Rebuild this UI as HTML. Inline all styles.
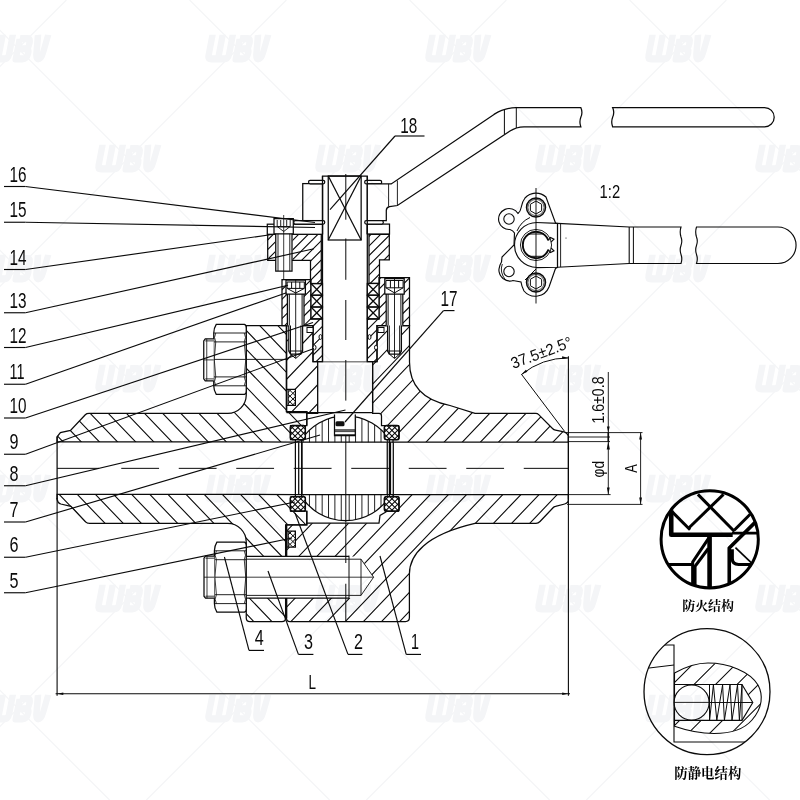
<!DOCTYPE html><html><head><meta charset="utf-8"><title>Ball valve drawing</title><style>html,body{margin:0;padding:0;background:#fff;width:800px;height:800px;overflow:hidden;font-family:"Liberation Sans",sans-serif}</style></head><body><svg width="800" height="800" viewBox="0 0 800 800" style="position:absolute;left:0;top:0"><defs><clipPath id="c1"><path d="M57.1,441.9 L57.1,436.8 L60.4,432.6 L70.5,430.4 L85.3,414.7 Q86.6,413.4 89,413.4 L227.75,413.4 A18.5,18.5 0 0 0 246.25,395.25 L246.25,325.6 L286.5,325.6 L286.5,411.7 L306.8,411.7 L306.8,425.5 L290.5,425.5 L290.5,439.5 L295.4,439.5 L295.4,442 Z" clip-rule="nonzero"/></clipPath><clipPath id="c2"><path d="M57.1,494.4 L57.1,499.3 Q57.6,503 60.8,504 L70.9,506.3 L85.5,521.9 Q87,523.4 89.5,523.4 L227.75,523.4 A18.5,18.5 0 0 1 246.25,541.9 L246.25,618 Q246.25,621.6 250,621.6 L282,621.6 Q285.6,621.6 285.6,618 L285.6,524.8 L306.8,524.8 L306.8,511 L290.5,511 L290.5,497 L295.4,497 L295.4,494.5 Z" clip-rule="nonzero"/></clipPath><clipPath id="c3"><path d="M286.5,325.6 L313,325.6 L313,361.6 L317.7,361.6 L317.7,413.3 L306.8,413.3 L306.8,411.7 L286.5,411.7 Z" clip-rule="nonzero"/></clipPath><clipPath id="c4"><path d="M377,325.6 L409.5,325.6 L409.5,362 C409.5,384 422,400 450,405.5 L475,413.4 L535.8,413.4 Q537.5,413.4 538.7,414.6 L552.5,428.5 Q553.8,429.8 555.5,430.1 L564,431.9 Q568.4,433.5 568.4,437.5 L568.4,442 L393,442 L393,439.5 L398.6,439.5 L398.6,425.5 L381.5,425.5 L381.5,416 Q381.5,413.3 379,413.3 L372.6,413.3 L372.6,361.6 L377,361.6 Z" clip-rule="nonzero"/></clipPath><clipPath id="c5"><path d="M286.5,524.8 L306.8,524.8 L306.8,523.2 L379,523.2 L380,515.5 L386,512 L386,511 L398.6,511 L398.6,497 L393,497 L393,494.5 L568.4,494.5 L568.4,499.5 Q568.4,503 564.7,504 L555.5,506.4 Q554,506.7 552.8,508 L540,521.5 Q538.2,523.4 536,523.4 L475,523.4 C425,535 409.4,555 409.4,574 L409.4,617.6 Q409.4,621.6 405.4,621.6 L290,621.6 Q286.5,621.6 286.5,618 Z" clip-rule="nonzero"/></clipPath><clipPath id="c6"><path d="M288.1,389.4 L295.4,389.4 L295.4,405.3 L288.1,405.3Z" clip-rule="nonzero"/></clipPath><clipPath id="c7"><path d="M288.1,389.4 L295.4,389.4 L295.4,405.3 L288.1,405.3Z" clip-rule="nonzero"/></clipPath><clipPath id="c8"><path d="M288.1,531.2 L295.4,531.2 L295.4,547.1 L288.1,547.1Z" clip-rule="nonzero"/></clipPath><clipPath id="c9"><path d="M288.1,531.2 L295.4,531.2 L295.4,547.1 L288.1,547.1Z" clip-rule="nonzero"/></clipPath><clipPath id="c10"><path d="M301.6,439.6 A52.4,52.4 0 0 1 389.4,439.6 L389.4,496.9 A52.4,52.4 0 0 1 301.6,496.9 Z M301.6,442.2 L389.4,442.2 L389.4,494.6 L301.6,494.6 Z M334.5,412 L355.3,412 L355.3,436 L334.5,436 Z" clip-rule="evenodd"/></clipPath><clipPath id="c11"><path d="M301.6,439.6 A52.4,52.4 0 0 1 389.4,439.6 L389.4,496.9 A52.4,52.4 0 0 1 301.6,496.9 Z M301.6,442.2 L389.4,442.2 L389.4,494.6 L301.6,494.6 Z M334.5,412 L355.3,412 L355.3,436 L334.5,436 Z" clip-rule="evenodd"/></clipPath><clipPath id="c12"><path d="M292.4,425.5 L303.4,425.5 Q305.4,425.5 305.4,427.5 L305.4,437.6 Q305.4,439.6 303.4,439.6 L292.4,439.6 Q290.4,439.6 290.4,437.6 L290.4,427.5 Q290.4,425.5 292.4,425.5Z" clip-rule="nonzero"/></clipPath><clipPath id="c13"><path d="M292.4,425.5 L303.4,425.5 Q305.4,425.5 305.4,427.5 L305.4,437.6 Q305.4,439.6 303.4,439.6 L292.4,439.6 Q290.4,439.6 290.4,437.6 L290.4,427.5 Q290.4,425.5 292.4,425.5Z" clip-rule="nonzero"/></clipPath><clipPath id="c14"><path d="M292.4,496.6 L303.4,496.6 Q305.4,496.6 305.4,498.6 L305.4,509.2 Q305.4,511.2 303.4,511.2 L292.4,511.2 Q290.4,511.2 290.4,509.2 L290.4,498.6 Q290.4,496.6 292.4,496.6Z" clip-rule="nonzero"/></clipPath><clipPath id="c15"><path d="M292.4,496.6 L303.4,496.6 Q305.4,496.6 305.4,498.6 L305.4,509.2 Q305.4,511.2 303.4,511.2 L292.4,511.2 Q290.4,511.2 290.4,509.2 L290.4,498.6 Q290.4,496.6 292.4,496.6Z" clip-rule="nonzero"/></clipPath><clipPath id="c16"><path d="M386.4,425.5 L397,425.5 Q399,425.5 399,427.5 L399,437.6 Q399,439.6 397,439.6 L386.4,439.6 Q384.4,439.6 384.4,437.6 L384.4,427.5 Q384.4,425.5 386.4,425.5Z" clip-rule="nonzero"/></clipPath><clipPath id="c17"><path d="M386.4,425.5 L397,425.5 Q399,425.5 399,427.5 L399,437.6 Q399,439.6 397,439.6 L386.4,439.6 Q384.4,439.6 384.4,437.6 L384.4,427.5 Q384.4,425.5 386.4,425.5Z" clip-rule="nonzero"/></clipPath><clipPath id="c18"><path d="M386.4,496.6 L397,496.6 Q399,496.6 399,498.6 L399,509.2 Q399,511.2 397,511.2 L386.4,511.2 Q384.4,511.2 384.4,509.2 L384.4,498.6 Q384.4,496.6 386.4,496.6Z" clip-rule="nonzero"/></clipPath><clipPath id="c19"><path d="M386.4,496.6 L397,496.6 Q399,496.6 399,498.6 L399,509.2 Q399,511.2 397,511.2 L386.4,511.2 Q384.4,511.2 384.4,509.2 L384.4,498.6 Q384.4,496.6 386.4,496.6Z" clip-rule="nonzero"/></clipPath><clipPath id="c20"><path d="M282,279.5 L311,279.5 L311,319 L322.5,319 L322.5,361.6 L313,361.6 L313,325.5 L282,325.5 Z" clip-rule="nonzero"/></clipPath><clipPath id="c21"><path d="M379,277.5 L409.5,277.5 L409.5,325.5 L377,325.5 L377,361.6 L367.3,361.6 L367.3,319 L379,319 Z" clip-rule="nonzero"/></clipPath><clipPath id="c22"><path d="M292.6,234.3 L321.3,234.3 L321.3,283.5 L310.5,283.5 L310.5,260.3 L292.6,260.3Z" clip-rule="nonzero"/></clipPath><clipPath id="c23"><path d="M267.7,234.3 L275.1,234.3 L275.1,260.3 L267.7,260.3Z" clip-rule="nonzero"/></clipPath><clipPath id="c24"><path d="M369,234.3 L389.3,234.3 L389.3,259.9 L379.5,259.9 L379.5,283.3 L369,283.3 Z" clip-rule="nonzero"/></clipPath><clipPath id="fc"><circle cx="709.7" cy="539.3" r="48.6"/></clipPath><clipPath id="ac"><circle cx="707" cy="691.7" r="63"/></clipPath><clipPath id="c25"><path d="M674.5,673 C686,666.5 698,663 708,663 C728,663 750,671.5 758,685 C763.5,695 762.5,708 752,720 C743,730.5 727,733.5 714,733.5 C700,733.5 688,731 674.5,726.3Z M674,684.5 L742,684.5 L752.8,702.5 L742,720.3 L674,720.3 Z" clip-rule="evenodd"/></clipPath></defs><path d="M-53.86,320L66.14,445M-35.73,320L84.27,445M-17.6,320L102.4,445M0.53,320L120.53,445M18.66,320L138.66,445M36.79,320L156.79,445M54.92,320L174.92,445M73.05,320L193.05,445M91.18,320L211.18,445M109.31,320L229.31,445M127.44,320L247.44,445M145.57,320L265.57,445M163.7,320L283.7,445M181.83,320L301.83,445M199.96,320L319.96,445M218.09,320L338.09,445M236.22,320L356.22,445M254.35,320L374.35,445M272.48,320L392.48,445M290.61,320L410.61,445M308.74,320L428.74,445" fill="none" stroke="#0a0a0a" stroke-width="1.1" clip-path="url(#c1)"/><path d="M57.1,441.9 L57.1,436.8 L60.4,432.6 L70.5,430.4 L85.3,414.7 Q86.6,413.4 89,413.4 L227.75,413.4 A18.5,18.5 0 0 0 246.25,395.25 L246.25,325.6 L286.5,325.6 L286.5,411.7 L306.8,411.7 L306.8,425.5 L290.5,425.5 L290.5,439.5 L295.4,439.5 L295.4,442 Z" fill="none" stroke="#0a0a0a" stroke-width="1.25" /><path d="M-71.96,490L57.64,625M-53.83,490L75.77,625M-35.7,490L93.9,625M-17.57,490L112.03,625M0.56,490L130.16,625M18.69,490L148.29,625M36.82,490L166.42,625M54.95,490L184.55,625M73.08,490L202.68,625M91.21,490L220.81,625M109.34,490L238.94,625M127.47,490L257.07,625M145.6,490L275.2,625M163.73,490L293.33,625M181.86,490L311.46,625M199.99,490L329.59,625M218.12,490L347.72,625M236.25,490L365.85,625M254.38,490L383.98,625M272.51,490L402.11,625M290.64,490L420.24,625M308.77,490L438.37,625" fill="none" stroke="#0a0a0a" stroke-width="1.1" clip-path="url(#c2)"/><path d="M57.1,494.4 L57.1,499.3 Q57.6,503 60.8,504 L70.9,506.3 L85.5,521.9 Q87,523.4 89.5,523.4 L227.75,523.4 A18.5,18.5 0 0 1 246.25,541.9 L246.25,618 Q246.25,621.6 250,621.6 L282,621.6 Q285.6,621.6 285.6,618 L285.6,524.8 L306.8,524.8 L306.8,511 L290.5,511 L290.5,497 L295.4,497 L295.4,494.5 Z" fill="none" stroke="#0a0a0a" stroke-width="1.25" /><path d="M57.1,436.8L57.1,499.3" fill="none" stroke="#0a0a0a" stroke-width="1.25" /><path d="M288.81,320L198.09,415M306.94,320L216.22,415M325.07,320L234.35,415M343.2,320L252.48,415M361.33,320L270.61,415M379.46,320L288.74,415M397.59,320L306.87,415" fill="none" stroke="#0a0a0a" stroke-width="1.1" clip-path="url(#c3)"/><path d="M286.5,325.6 L313,325.6 L313,361.6 L317.7,361.6 L317.7,413.3 L306.8,413.3 L306.8,411.7 L286.5,411.7 Z" fill="none" stroke="#0a0a0a" stroke-width="1.25" /><path d="M379.46,320L260.09,445M397.59,320L278.22,445M415.72,320L296.35,445M433.85,320L314.48,445M451.98,320L332.61,445M470.11,320L350.74,445M488.24,320L368.87,445M506.37,320L387.0,445M524.5,320L405.13,445M542.63,320L423.26,445M560.76,320L441.39,445M578.89,320L459.52,445M597.02,320L477.65,445M615.15,320L495.78,445M633.28,320L513.9,445M651.41,320L532.04,445M669.54,320L550.16,445M687.67,320L568.3,445" fill="none" stroke="#0a0a0a" stroke-width="1.1" clip-path="url(#c4)"/><path d="M377,325.6 L409.5,325.6 L409.5,362 C409.5,384 422,400 450,405.5 L475,413.4 L535.8,413.4 Q537.5,413.4 538.7,414.6 L552.5,428.5 Q553.8,429.8 555.5,430.1 L564,431.9 Q568.4,433.5 568.4,437.5 L568.4,442 L393,442 L393,439.5 L398.6,439.5 L398.6,425.5 L381.5,425.5 L381.5,416 Q381.5,413.3 379,413.3 L372.6,413.3 L372.6,361.6 L377,361.6 Z" fill="none" stroke="#0a0a0a" stroke-width="1.25" /><path d="M289.63,490L160.71,625M307.76,490L178.84,625M325.89,490L196.97,625M344.02,490L215.1,625M362.15,490L233.23,625M380.28,490L251.36,625M398.41,490L269.49,625M416.54,490L287.62,625M434.67,490L305.75,625M452.8,490L323.88,625M470.93,490L342.0,625M489.06,490L360.13,625M507.19,490L378.26,625M525.32,490L396.39,625M543.45,490L414.52,625M561.58,490L432.65,625M579.71,490L450.79,625M597.84,490L468.92,625M615.97,490L487.05,625M634.1,490L505.18,625M652.23,490L523.31,625M670.36,490L541.44,625M688.49,490L559.57,625" fill="none" stroke="#0a0a0a" stroke-width="1.1" clip-path="url(#c5)"/><path d="M286.5,524.8 L306.8,524.8 L306.8,523.2 L379,523.2 L380,515.5 L386,512 L386,511 L398.6,511 L398.6,497 L393,497 L393,494.5 L568.4,494.5 L568.4,499.5 Q568.4,503 564.7,504 L555.5,506.4 Q554,506.7 552.8,508 L540,521.5 Q538.2,523.4 536,523.4 L475,523.4 C425,535 409.4,555 409.4,574 L409.4,617.6 Q409.4,621.6 405.4,621.6 L290,621.6 Q286.5,621.6 286.5,618 Z" fill="none" stroke="#0a0a0a" stroke-width="1.25" /><path d="M568.4,437L568.4,499.5" fill="none" stroke="#0a0a0a" stroke-width="1.25" /><path d="M286.5,389.4 L295.4,389.4 L295.4,405.3 L286.5,405.3Z" fill="#fff" stroke="none"/><path d="M292.1,388.4L274.2,406.3M297.8,388.4L279.9,406.3M303.5,388.4L285.6,406.3M309.2,388.4L291.3,406.3" fill="none" stroke="#0a0a0a" stroke-width="1.0" clip-path="url(#c6)"/><path d="M270.9,388.4L288.8,406.3M276.6,388.4L294.5,406.3M282.3,388.4L300.2,406.3M288.0,388.4L305.9,406.3M293.7,388.4L311.6,406.3" fill="none" stroke="#0a0a0a" stroke-width="1.0" clip-path="url(#c7)"/><path d="M286.5,389.4 L295.4,389.4 L295.4,405.3 L286.5,405.3" fill="none" stroke="#0a0a0a" stroke-width="1.2" /><path d="M288.1,389.4L288.1,405.3" fill="none" stroke="#0a0a0a" stroke-width="1.3" /><path d="M286.5,531.2 L295.4,531.2 L295.4,547.1 L286.5,547.1Z" fill="#fff" stroke="none"/><path d="M287.1,530.2L269.2,548.1M292.8,530.2L274.9,548.1M298.5,530.2L280.6,548.1M304.2,530.2L286.3,548.1M309.9,530.2L292.0,548.1" fill="none" stroke="#0a0a0a" stroke-width="1.0" clip-path="url(#c8)"/><path d="M270.2,530.2L288.1,548.1M275.9,530.2L293.8,548.1M281.6,530.2L299.5,548.1M287.3,530.2L305.2,548.1M293.0,530.2L310.9,548.1" fill="none" stroke="#0a0a0a" stroke-width="1.0" clip-path="url(#c9)"/><path d="M286.5,531.2 L295.4,531.2 L295.4,547.1 L286.5,547.1" fill="none" stroke="#0a0a0a" stroke-width="1.2" /><path d="M288.1,531.2L288.1,547.1" fill="none" stroke="#0a0a0a" stroke-width="1.3" /><path d="M286.5,325.6L286.5,411.7" fill="none" stroke="#0a0a0a" stroke-width="1.25" /><path d="M286.5,524.8L286.5,618" fill="none" stroke="#0a0a0a" stroke-width="1.25" /><path d="M301.6,439.6 A52.4,52.4 0 0 1 389.4,439.6 L389.4,496.9 A52.4,52.4 0 0 1 301.6,496.9 Z" fill="#fff" stroke="none"/><path d="M303.09,414L303.09,522M309.45,414L309.45,522M315.81,414L315.81,522M322.17,414L322.17,522M328.53,414L328.53,522M334.89,414L334.89,522M341.25,414L341.25,522" fill="none" stroke="#0a0a0a" stroke-width="0.9" clip-path="url(#c10)"/><path d="M349.2,414L349.2,522M355.56,414L355.56,522M361.92,414L361.92,522M368.28,414L368.28,522M374.64,414L374.64,522M381.0,414L381.0,522M387.36,414L387.36,522" fill="none" stroke="#0a0a0a" stroke-width="0.9" clip-path="url(#c11)"/><path d="M301.6,439.6 A52.4,52.4 0 0 1 389.4,439.6 L389.4,496.9 A52.4,52.4 0 0 1 301.6,496.9 Z" fill="none" stroke="#0a0a0a" stroke-width="1.25" /><path d="M295.4,442.1L393,442.1" fill="none" stroke="#0a0a0a" stroke-width="1.25" /><path d="M295.4,494.6L393,494.6" fill="none" stroke="#0a0a0a" stroke-width="1.25" /><path d="M295.4,442.2L295.4,494.4" fill="none" stroke="#0a0a0a" stroke-width="1.25" /><path d="M298.7,442.2L298.7,494.4" fill="none" stroke="#0a0a0a" stroke-width="1.25" /><path d="M302,442.2L302,494.4" fill="none" stroke="#0a0a0a" stroke-width="1.25" /><path d="M387.25,442.2L387.25,494.4" fill="none" stroke="#0a0a0a" stroke-width="1.25" /><path d="M390.5,442.2L390.5,494.4" fill="none" stroke="#0a0a0a" stroke-width="1.25" /><path d="M393.3,442.2L393.3,494.4" fill="none" stroke="#0a0a0a" stroke-width="1.25" /><path d="M334.5,412 L355.3,412 L355.3,435.5 L334.5,435.5 Z" fill="#fff" stroke="none"/><path d="M334.5,414.5 L334.5,435.7 L355.3,435.7 L355.3,414.5" fill="none" stroke="#0a0a0a" stroke-width="1.25" /><path d="M334.5,430L355.3,430" fill="none" stroke="#0a0a0a" stroke-width="1.25" /><path d="M334.5,431.6L355.3,431.6" fill="none" stroke="#0a0a0a" stroke-width="0.8" /><path d="M334.5,434.6L355.3,434.6" fill="none" stroke="#0a0a0a" stroke-width="0.8" /><rect x="335.5" y="421.2" width="9" height="5" rx="1.5" fill="#111"/><path d="M292.4,425.5 L303.4,425.5 Q305.4,425.5 305.4,427.5 L305.4,437.6 Q305.4,439.6 303.4,439.6 L292.4,439.6 Q290.4,439.6 290.4,437.6 L290.4,427.5 Q290.4,425.5 292.4,425.5Z" fill="#fff" stroke="none"/><path d="M289.5,424.5L273.4,440.6M295.2,424.5L279.1,440.6M300.9,424.5L284.8,440.6M306.6,424.5L290.5,440.6M312.3,424.5L296.2,440.6M318.0,424.5L301.9,440.6" fill="none" stroke="#0a0a0a" stroke-width="1.05" clip-path="url(#c12)"/><path d="M277.8,424.5L293.9,440.6M283.5,424.5L299.6,440.6M289.2,424.5L305.3,440.6M294.9,424.5L311.0,440.6M300.6,424.5L316.7,440.6M306.3,424.5L322.4,440.6" fill="none" stroke="#0a0a0a" stroke-width="1.05" clip-path="url(#c13)"/><path d="M292.4,425.5 L303.4,425.5 Q305.4,425.5 305.4,427.5 L305.4,437.6 Q305.4,439.6 303.4,439.6 L292.4,439.6 Q290.4,439.6 290.4,437.6 L290.4,427.5 Q290.4,425.5 292.4,425.5Z" fill="none" stroke="#0a0a0a" stroke-width="1.25" /><path d="M292.4,425.5 L303.4,425.5 Q305.4,425.5 305.4,427.5 L305.4,437.6 Q305.4,439.6 303.4,439.6 L292.4,439.6 Q290.4,439.6 290.4,437.6 L290.4,427.5 Q290.4,425.5 292.4,425.5Z" fill="none" stroke="#0a0a0a" stroke-width="1.3" /><path d="M292.4,496.6 L303.4,496.6 Q305.4,496.6 305.4,498.6 L305.4,509.2 Q305.4,511.2 303.4,511.2 L292.4,511.2 Q290.4,511.2 290.4,509.2 L290.4,498.6 Q290.4,496.6 292.4,496.6Z" fill="#fff" stroke="none"/><path d="M292.5,495.6L275.9,512.2M298.2,495.6L281.6,512.2M303.9,495.6L287.3,512.2M309.6,495.6L293.0,512.2M315.3,495.6L298.7,512.2M321.0,495.6L304.4,512.2" fill="none" stroke="#0a0a0a" stroke-width="1.05" clip-path="url(#c14)"/><path d="M274.8,495.6L291.4,512.2M280.5,495.6L297.1,512.2M286.2,495.6L302.8,512.2M291.9,495.6L308.5,512.2M297.6,495.6L314.2,512.2M303.3,495.6L319.9,512.2" fill="none" stroke="#0a0a0a" stroke-width="1.05" clip-path="url(#c15)"/><path d="M292.4,496.6 L303.4,496.6 Q305.4,496.6 305.4,498.6 L305.4,509.2 Q305.4,511.2 303.4,511.2 L292.4,511.2 Q290.4,511.2 290.4,509.2 L290.4,498.6 Q290.4,496.6 292.4,496.6Z" fill="none" stroke="#0a0a0a" stroke-width="1.25" /><path d="M292.4,496.6 L303.4,496.6 Q305.4,496.6 305.4,498.6 L305.4,509.2 Q305.4,511.2 303.4,511.2 L292.4,511.2 Q290.4,511.2 290.4,509.2 L290.4,498.6 Q290.4,496.6 292.4,496.6Z" fill="none" stroke="#0a0a0a" stroke-width="1.3" /><path d="M386.4,425.5 L397,425.5 Q399,425.5 399,427.5 L399,437.6 Q399,439.6 397,439.6 L386.4,439.6 Q384.4,439.6 384.4,437.6 L384.4,427.5 Q384.4,425.5 386.4,425.5Z" fill="#fff" stroke="none"/><path d="M386.4,424.5L370.3,440.6M392.1,424.5L376.0,440.6M397.8,424.5L381.7,440.6M403.5,424.5L387.4,440.6M409.2,424.5L393.1,440.6M414.9,424.5L398.8,440.6" fill="none" stroke="#0a0a0a" stroke-width="1.05" clip-path="url(#c16)"/><path d="M369.0,424.5L385.1,440.6M374.7,424.5L390.8,440.6M380.4,424.5L396.5,440.6M386.1,424.5L402.2,440.6M391.8,424.5L407.9,440.6M397.5,424.5L413.6,440.6" fill="none" stroke="#0a0a0a" stroke-width="1.05" clip-path="url(#c17)"/><path d="M386.4,425.5 L397,425.5 Q399,425.5 399,427.5 L399,437.6 Q399,439.6 397,439.6 L386.4,439.6 Q384.4,439.6 384.4,437.6 L384.4,427.5 Q384.4,425.5 386.4,425.5Z" fill="none" stroke="#0a0a0a" stroke-width="1.25" /><path d="M386.4,425.5 L397,425.5 Q399,425.5 399,427.5 L399,437.6 Q399,439.6 397,439.6 L386.4,439.6 Q384.4,439.6 384.4,437.6 L384.4,427.5 Q384.4,425.5 386.4,425.5Z" fill="none" stroke="#0a0a0a" stroke-width="1.3" /><path d="M386.4,496.6 L397,496.6 Q399,496.6 399,498.6 L399,509.2 Q399,511.2 397,511.2 L386.4,511.2 Q384.4,511.2 384.4,509.2 L384.4,498.6 Q384.4,496.6 386.4,496.6Z" fill="#fff" stroke="none"/><path d="M383.7,495.6L367.1,512.2M389.4,495.6L372.8,512.2M395.1,495.6L378.5,512.2M400.8,495.6L384.2,512.2M406.5,495.6L389.9,512.2M412.2,495.6L395.6,512.2" fill="none" stroke="#0a0a0a" stroke-width="1.05" clip-path="url(#c18)"/><path d="M371.7,495.6L388.3,512.2M377.4,495.6L394.0,512.2M383.1,495.6L399.7,512.2M388.8,495.6L405.4,512.2M394.5,495.6L411.1,512.2" fill="none" stroke="#0a0a0a" stroke-width="1.05" clip-path="url(#c19)"/><path d="M386.4,496.6 L397,496.6 Q399,496.6 399,498.6 L399,509.2 Q399,511.2 397,511.2 L386.4,511.2 Q384.4,511.2 384.4,509.2 L384.4,498.6 Q384.4,496.6 386.4,496.6Z" fill="none" stroke="#0a0a0a" stroke-width="1.25" /><path d="M386.4,496.6 L397,496.6 Q399,496.6 399,498.6 L399,509.2 Q399,511.2 397,511.2 L386.4,511.2 Q384.4,511.2 384.4,509.2 L384.4,498.6 Q384.4,496.6 386.4,496.6Z" fill="none" stroke="#0a0a0a" stroke-width="1.3" /><path d="M306.8,425.5 L306.8,413.3 L317.7,413.3" fill="none" stroke="#0a0a0a" stroke-width="1.25" /><path d="M306.8,511 L306.8,523.2" fill="none" stroke="#0a0a0a" stroke-width="1.25" /><path d="M317.7,361.6 L372.6,361.6 L372.6,412.6 L317.7,412.6Z" fill="#fff" stroke="none"/><path d="M317.7,412.6 L317.7,361.6 L372.6,361.6 L372.6,412.6" fill="none" stroke="#0a0a0a" stroke-width="1.25" /><path d="M286.5,412.5L372.6,412.5" fill="none" stroke="#0a0a0a" stroke-width="1.25" /><path d="M322.5,176 L367.3,176 L367.3,361.6 L322.5,361.6Z" fill="#fff" stroke="none"/><path d="M322.5,361.6 L322.5,176 L367.3,176 L367.3,361.6" fill="none" stroke="#0a0a0a" stroke-width="1.25" /><rect x="328.25" y="176" width="32.9" height="64" rx="0" fill="none" stroke="#0a0a0a" stroke-width="1.25"/><path d="M328.25,176L361.15,240" fill="none" stroke="#0a0a0a" stroke-width="1.25" /><path d="M361.15,176L328.25,240" fill="none" stroke="#0a0a0a" stroke-width="1.25" /><path d="M286.95,275L196.95,365M296.6,275L206.6,365M306.25,275L216.25,365M315.9,275L225.9,365M325.55,275L235.55,365M335.2,275L245.2,365M344.85,275L254.85,365M354.5,275L264.5,365M364.15,275L274.15,365M373.8,275L283.8,365M383.45,275L293.45,365M393.1,275L303.1,365M402.75,275L312.75,365M412.4,275L322.4,365" fill="none" stroke="#0a0a0a" stroke-width="1.1" clip-path="url(#c20)"/><path d="M282,279.5 L311,279.5 L311,319 L322.5,319 L322.5,361.6 L313,361.6 L313,325.5 L282,325.5 Z" fill="none" stroke="#0a0a0a" stroke-width="1.25" /><path d="M373.8,275L283.8,365M383.45,275L293.45,365M393.1,275L303.1,365M402.75,275L312.75,365M412.4,275L322.4,365M422.05,275L332.05,365M431.7,275L341.7,365M441.35,275L351.35,365M451.0,275L361.0,365M460.65,275L370.65,365M470.3,275L380.3,365M479.95,275L389.95,365M489.6,275L399.6,365M499.25,275L409.25,365" fill="none" stroke="#0a0a0a" stroke-width="1.1" clip-path="url(#c21)"/><path d="M379,277.5 L409.5,277.5 L409.5,325.5 L377,325.5 L377,361.6 L367.3,361.6 L367.3,319 L379,319 Z" fill="none" stroke="#0a0a0a" stroke-width="1.25" /><path d="M311,283.5L322.5,283.5L322.5,318.7L311,318.7Z" fill="#fff" stroke="none"/><rect x="311" y="283.5" width="11.5" height="11.7" rx="0" fill="none" stroke="#0a0a0a" stroke-width="1.25"/><path d="M311,283.5L322.5,295.2" fill="none" stroke="#0a0a0a" stroke-width="1.25" /><path d="M322.5,283.5L311,295.2" fill="none" stroke="#0a0a0a" stroke-width="1.25" /><rect x="311" y="295.2" width="11.5" height="11.8" rx="0" fill="none" stroke="#0a0a0a" stroke-width="1.25"/><path d="M311,295.2L322.5,307" fill="none" stroke="#0a0a0a" stroke-width="1.25" /><path d="M322.5,295.2L311,307" fill="none" stroke="#0a0a0a" stroke-width="1.25" /><rect x="311" y="307" width="11.5" height="11.7" rx="0" fill="none" stroke="#0a0a0a" stroke-width="1.25"/><path d="M311,307L322.5,318.7" fill="none" stroke="#0a0a0a" stroke-width="1.25" /><path d="M322.5,307L311,318.7" fill="none" stroke="#0a0a0a" stroke-width="1.25" /><path d="M367.3,283.5L379,283.5L379,318.7L367.3,318.7Z" fill="#fff" stroke="none"/><rect x="367.3" y="283.5" width="11.7" height="11.7" rx="0" fill="none" stroke="#0a0a0a" stroke-width="1.25"/><path d="M367.3,283.5L379,295.2" fill="none" stroke="#0a0a0a" stroke-width="1.25" /><path d="M379,283.5L367.3,295.2" fill="none" stroke="#0a0a0a" stroke-width="1.25" /><rect x="367.3" y="295.2" width="11.7" height="11.8" rx="0" fill="none" stroke="#0a0a0a" stroke-width="1.25"/><path d="M367.3,295.2L379,307" fill="none" stroke="#0a0a0a" stroke-width="1.25" /><path d="M379,295.2L367.3,307" fill="none" stroke="#0a0a0a" stroke-width="1.25" /><rect x="367.3" y="307" width="11.7" height="11.7" rx="0" fill="none" stroke="#0a0a0a" stroke-width="1.25"/><path d="M367.3,307L379,318.7" fill="none" stroke="#0a0a0a" stroke-width="1.25" /><path d="M379,307L367.3,318.7" fill="none" stroke="#0a0a0a" stroke-width="1.25" /><rect x="307" y="327.5" width="6" height="5.0" rx="0" fill="#fff" stroke="#0a0a0a" stroke-width="1.0"/><rect x="378" y="327.5" width="6" height="5.0" rx="0" fill="#fff" stroke="#0a0a0a" stroke-width="1.0"/><ellipse cx="320.5" cy="337" rx="1.5" ry="2.4" fill="#fff" stroke="#0a0a0a" stroke-width="1"/><ellipse cx="314.5" cy="347.5" rx="1.5" ry="2.4" fill="#fff" stroke="#0a0a0a" stroke-width="1"/><ellipse cx="369.5" cy="337" rx="1.5" ry="2.4" fill="#fff" stroke="#0a0a0a" stroke-width="1"/><ellipse cx="376" cy="347.5" rx="1.5" ry="2.4" fill="#fff" stroke="#0a0a0a" stroke-width="1"/><path d="M286.0,280L305.4,280L305.4,294L304.0,294L304.0,325.5L302.59999999999997,325.5L302.59999999999997,351L295.7,358L288.8,351L288.8,325.5L287.4,325.5L287.4,294L286.0,294Z" fill="#fff" stroke="none"/><path d="M286.0,280L305.4,280L305.4,294L286.0,294Z" fill="none" stroke="#0a0a0a" stroke-width="1.25" /><path d="M287.4,294L287.4,325.5M304.0,294L304.0,325.5" fill="none" stroke="#0a0a0a" stroke-width="1.25" /><path d="M288.8,325.5L288.8,351L290.5,354L300.9,354L302.59999999999997,351L302.59999999999997,325.5" fill="none" stroke="#0a0a0a" stroke-width="1.25" /><path d="M290.5,354L295.7,358.5L300.9,354" fill="none" stroke="#0a0a0a" stroke-width="1.0" /><path d="M288.8,351L302.59999999999997,351" fill="none" stroke="#0a0a0a" stroke-width="1.0" /><path d="M289.3,294L289.3,325.5" fill="none" stroke="#0a0a0a" stroke-width="1.0" /><path d="M302.09999999999997,294L302.09999999999997,325.5" fill="none" stroke="#0a0a0a" stroke-width="1.0" /><path d="M290.5,325.5L290.5,354" fill="none" stroke="#0a0a0a" stroke-width="1.0" /><path d="M300.9,325.5L300.9,354" fill="none" stroke="#0a0a0a" stroke-width="1.0" /><path d="M287.09999999999997,282L287.09999999999997,288.4L295.7,293.02L304.3,288.4L304.3,282Z" fill="none" stroke="#0a0a0a" stroke-width="1.0" /><path d="M291.59999999999997,282L291.59999999999997,288.4" fill="none" stroke="#0a0a0a" stroke-width="1.0" /><path d="M299.8,282L299.8,288.4" fill="none" stroke="#0a0a0a" stroke-width="1.0" /><path d="M287.09999999999997,288.4L304.3,288.4" fill="none" stroke="#0a0a0a" stroke-width="1.0" /><path d="M295.7,279L295.7,358" fill="none" stroke="#0a0a0a" stroke-width="0.9" /><path d="M384.8,278.5L404.2,278.5L404.2,294L402.8,294L402.8,325.5L401.4,325.5L401.4,351L394.5,358L387.6,351L387.6,325.5L386.2,325.5L386.2,294L384.8,294Z" fill="#fff" stroke="none"/><path d="M384.8,278.5L404.2,278.5L404.2,294L384.8,294Z" fill="none" stroke="#0a0a0a" stroke-width="1.25" /><path d="M386.2,294L386.2,325.5M402.8,294L402.8,325.5" fill="none" stroke="#0a0a0a" stroke-width="1.25" /><path d="M387.6,325.5L387.6,351L389.3,354L399.7,354L401.4,351L401.4,325.5" fill="none" stroke="#0a0a0a" stroke-width="1.25" /><path d="M389.3,354L394.5,358.5L399.7,354" fill="none" stroke="#0a0a0a" stroke-width="1.0" /><path d="M387.6,351L401.4,351" fill="none" stroke="#0a0a0a" stroke-width="1.0" /><path d="M388.1,294L388.1,325.5" fill="none" stroke="#0a0a0a" stroke-width="1.0" /><path d="M400.9,294L400.9,325.5" fill="none" stroke="#0a0a0a" stroke-width="1.0" /><path d="M389.3,325.5L389.3,354" fill="none" stroke="#0a0a0a" stroke-width="1.0" /><path d="M399.7,325.5L399.7,354" fill="none" stroke="#0a0a0a" stroke-width="1.0" /><path d="M385.9,280.5L385.9,287.8L394.5,292.915L403.1,287.8L403.1,280.5Z" fill="none" stroke="#0a0a0a" stroke-width="1.0" /><path d="M390.4,280.5L390.4,287.8" fill="none" stroke="#0a0a0a" stroke-width="1.0" /><path d="M398.6,280.5L398.6,287.8" fill="none" stroke="#0a0a0a" stroke-width="1.0" /><path d="M385.9,287.8L403.1,287.8" fill="none" stroke="#0a0a0a" stroke-width="1.0" /><path d="M394.5,277.5L394.5,358" fill="none" stroke="#0a0a0a" stroke-width="0.9" /><path d="M291.35,232L237.35,286M301.0,232L247.0,286M310.65,232L256.65,286M320.3,232L266.3,286M329.95,232L275.95,286M339.6,232L285.6,286M349.25,232L295.25,286M358.9,232L304.9,286M368.55,232L314.55,286M378.2,232L324.2,286" fill="none" stroke="#0a0a0a" stroke-width="1.1" clip-path="url(#c22)"/><path d="M266.0,232L236.0,262M275.65,232L245.65,262M285.3,232L255.3,262M294.95,232L264.95,262M304.6,232L274.6,262" fill="none" stroke="#0a0a0a" stroke-width="1.1" clip-path="url(#c23)"/><path d="M267.7,234.3 L321.3,234.3 L321.3,283.5 L310.5,283.5 L310.5,260.3 L267.7,260.3 Z" fill="none" stroke="#0a0a0a" stroke-width="1.25" /><path d="M373.35,232L319.35,286M383.0,232L329.0,286M392.65,232L338.65,286M402.3,232L348.3,286M411.95,232L357.95,286M421.6,232L367.6,286M431.25,232L377.25,286M440.9,232L386.9,286" fill="none" stroke="#0a0a0a" stroke-width="1.1" clip-path="url(#c24)"/><path d="M369,234.3 L389.3,234.3 L389.3,259.9 L379.5,259.9 L379.5,283.3 L369,283.3 Z" fill="none" stroke="#0a0a0a" stroke-width="1.25" /><rect x="267.3" y="224.2" width="55.2" height="10.1" rx="0" fill="#fff" stroke="#0a0a0a" stroke-width="1.25"/><rect x="367.3" y="224.1" width="22.2" height="9.9" rx="0" fill="#fff" stroke="#0a0a0a" stroke-width="1.25"/><path d="M275.75,233.75 L292,233.75 L292,272 L275.75,272Z" fill="#fff" stroke="none"/><path d="M274,218.6 L293.3,218.6 L293.3,233.75 L274,233.75Z" fill="#fff" stroke="none"/><path d="M274,218.6 L293.3,218.6 L293.3,233.75 L274,233.75Z" fill="none" stroke="#0a0a0a" stroke-width="1.25" /><path d="M275.75,233.75 L275.75,271 L292,271 L292,233.75" fill="none" stroke="#0a0a0a" stroke-width="1.25" /><path d="M278,233.75L278,271" fill="none" stroke="#0a0a0a" stroke-width="0.9" /><path d="M289.8,233.75L289.8,271" fill="none" stroke="#0a0a0a" stroke-width="0.9" /><path d="M277.2,220 L277.2,226.5 L283.7,231.5 L290.2,226.5 L290.2,220" fill="none" stroke="#0a0a0a" stroke-width="0.9" /><path d="M277.2,226.5L290.2,226.5" fill="none" stroke="#0a0a0a" stroke-width="0.9" /><path d="M280.7,220L280.7,226.5" fill="none" stroke="#0a0a0a" stroke-width="0.9" /><path d="M286.7,220L286.7,226.5" fill="none" stroke="#0a0a0a" stroke-width="0.9" /><path d="M283.7,215L283.7,279" fill="none" stroke="#0a0a0a" stroke-width="0.8" /><path d="M282,279.5 L282,279.5" fill="none" stroke="#0a0a0a" stroke-width="1" /><rect x="302.75" y="183.6" width="19.75" height="37.0" rx="0" fill="#fff" stroke="#0a0a0a" stroke-width="1.25"/><rect x="308.6" y="180.3" width="16.1" height="3.5" rx="1.5" fill="#fff" stroke="#0a0a0a" stroke-width="1.25"/><rect x="293.75" y="220.6" width="30.95" height="3.5" rx="1.5" fill="#fff" stroke="#0a0a0a" stroke-width="1.25"/><rect x="364.75" y="180.3" width="16.85" height="3.6" rx="1.5" fill="#fff" stroke="#0a0a0a" stroke-width="1.25"/><path d="M367.3,183.9 L391.2,183.9 L494,114.4 Q504,108 516,107.6 L580.8,107.6 Q583,112.5 580.9,117 Q579,122 580.8,126.8 L524,126.8 Q516,127 510,131 L397.4,205.5 L389.5,206.7 Q386.3,207.5 386.3,210.5 L386.3,220.7 L367.3,220.7Z" fill="#fff" stroke="none"/><path d="M367.3,183.9 L391.2,183.9 L494,114.4 Q504,108 516,107.6 L580.8,107.6 Q583,112.5 580.9,117 Q579,122 580.8,126.8 L524,126.8 Q516,127 510,131 L397.4,205.5 L389.5,206.7 Q386.3,207.5 386.3,210.5 L386.3,220.7 L367.3,220.7" fill="none" stroke="#0a0a0a" stroke-width="1.25" /><rect x="364.75" y="220.7" width="18.55" height="3.4" rx="1.5" fill="#fff" stroke="#0a0a0a" stroke-width="1.25"/><path d="M388.6,183.9L388.6,206.5" fill="none" stroke="#0a0a0a" stroke-width="0.9" /><path d="M397.4,180.5L397.4,205.5" fill="none" stroke="#0a0a0a" stroke-width="0.9" /><path d="M504.4,109.3L504.4,134" fill="none" stroke="#0a0a0a" stroke-width="1.0" /><path d="M516.3,107.6L516.3,128" fill="none" stroke="#0a0a0a" stroke-width="1.0" /><path d="M367.3,176L367.3,234" fill="none" stroke="#0a0a0a" stroke-width="1.25" /><path d="M322.5,176L322.5,234" fill="none" stroke="#0a0a0a" stroke-width="1.25" /><path d="M612.6,107.6 L764.6,107.6 A9.6,9.6 0 0 1 764.6,126.8 L612.6,126.8 Q610.8,122 612.7,117 Q614.8,112.5 612.6,107.6Z" fill="none" stroke="#0a0a0a" stroke-width="1.25" /><path d="M216.25,324.4 L244.45,324.4 Q246.25,324.9 246.25,327.9 L246.25,390.9 Q246.25,393.9 244.45,394.4 L216.25,394.4 Q213.75,390.4 213.75,385.79999999999995 L213.75,333.0 Q213.75,328.4 216.25,324.4Z" fill="#fff" stroke="none"/><path d="M216.25,324.4 L244.45,324.4 Q246.25,324.9 246.25,327.9 L246.25,390.9 Q246.25,393.9 244.45,394.4 L216.25,394.4 Q213.75,390.4 213.75,385.79999999999995 L213.75,333.0 Q213.75,328.4 216.25,324.4Z" fill="none" stroke="#0a0a0a" stroke-width="1.25" /><path d="M213.75,333.0L246.25,333.0" fill="none" stroke="#0a0a0a" stroke-width="0.9" /><path d="M213.75,341.9L246.25,341.9" fill="none" stroke="#0a0a0a" stroke-width="0.9" /><path d="M213.75,359.4L246.25,359.4" fill="none" stroke="#0a0a0a" stroke-width="0.9" /><path d="M213.75,376.9L246.25,376.9" fill="none" stroke="#0a0a0a" stroke-width="0.9" /><path d="M213.75,385.79999999999995L246.25,385.79999999999995" fill="none" stroke="#0a0a0a" stroke-width="0.9" /><path d="M215.75,333.0 Q213.25,337.4 215.75,341.9 Q212.75,359.4 215.75,376.9 Q213.25,381.4 215.75,385.79999999999995" fill="none" stroke="#0a0a0a" stroke-width="0.8" /><path d="M244.25,333.0 Q246.75,337.4 244.25,341.9 Q247.25,359.4 244.25,376.9 Q246.75,381.4 244.25,385.79999999999995" fill="none" stroke="#0a0a0a" stroke-width="0.8" /><path d="M213.75,338.9 L205.25,338.9 L203.75,340.9 L203.75,378.9 L205.25,380.9 L213.75,380.9Z" fill="#fff" stroke="none"/><path d="M213.75,338.9 L205.25,338.9 L203.75,340.9 L203.75,378.9 L205.25,380.9 L213.75,380.9" fill="none" stroke="#0a0a0a" stroke-width="1.25" /><path d="M205.25,340.9L213.75,340.9" fill="none" stroke="#0a0a0a" stroke-width="0.8" /><path d="M205.25,378.9L213.75,378.9" fill="none" stroke="#0a0a0a" stroke-width="0.8" /><path d="M206.75,338.9L206.75,380.9" fill="none" stroke="#0a0a0a" stroke-width="0.8" /><path d="M203.75,359.9L213.75,359.9" fill="none" stroke="#0a0a0a" stroke-width="0.8" /><path d="M246.25,359.4L286.5,359.4" fill="none" stroke="#0a0a0a" stroke-width="0.9" /><path d="M246,556.4 L349,556.4 L361,556.4 L361,558.4 L373.6,577.2 L361,596 L361,598 L246,598Z" fill="#fff" stroke="none"/><path d="M246.25,556.4 L349,556.4 M246.25,598 L349,598" fill="none" stroke="#0a0a0a" stroke-width="1.25" /><path d="M246.25,559.2 L361,559.2 L373.6,577.2 L361,595.4 L246.25,595.4" fill="none" stroke="#0a0a0a" stroke-width="0.9" /><path d="M349,555.6 L349,598.6" fill="none" stroke="#0a0a0a" stroke-width="1" /><path d="M361,559.2 L361,595.4" fill="none" stroke="#0a0a0a" stroke-width="0.9" /><path d="M246.25,577.2L373.6,577.2" fill="none" stroke="#0a0a0a" stroke-width="0.8" /><path d="M216.9,542.2 L244.45,542.2 Q246.25,542.7 246.25,545.7 L246.25,608.7 Q246.25,611.7 244.45,612.2 L216.9,612.2 Q214.4,608.2 214.4,603.6 L214.4,550.8000000000001 Q214.4,546.2 216.9,542.2Z" fill="#fff" stroke="none"/><path d="M216.9,542.2 L244.45,542.2 Q246.25,542.7 246.25,545.7 L246.25,608.7 Q246.25,611.7 244.45,612.2 L216.9,612.2 Q214.4,608.2 214.4,603.6 L214.4,550.8000000000001 Q214.4,546.2 216.9,542.2Z" fill="none" stroke="#0a0a0a" stroke-width="1.25" /><path d="M214.4,550.8000000000001L246.25,550.8000000000001" fill="none" stroke="#0a0a0a" stroke-width="0.9" /><path d="M214.4,559.7L246.25,559.7" fill="none" stroke="#0a0a0a" stroke-width="0.9" /><path d="M214.4,577.2L246.25,577.2" fill="none" stroke="#0a0a0a" stroke-width="0.9" /><path d="M214.4,594.7L246.25,594.7" fill="none" stroke="#0a0a0a" stroke-width="0.9" /><path d="M214.4,603.6L246.25,603.6" fill="none" stroke="#0a0a0a" stroke-width="0.9" /><path d="M216.4,550.8000000000001 Q213.9,555.2 216.4,559.7 Q213.4,577.2 216.4,594.7 Q213.9,599.2 216.4,603.6" fill="none" stroke="#0a0a0a" stroke-width="0.8" /><path d="M244.25,550.8000000000001 Q246.75,555.2 244.25,559.7 Q247.25,577.2 244.25,594.7 Q246.75,599.2 244.25,603.6" fill="none" stroke="#0a0a0a" stroke-width="0.8" /><path d="M214.4,556.2 L205.5,556.2 L204,558.2 L204,596.2 L205.5,598.2 L214.4,598.2Z" fill="#fff" stroke="none"/><path d="M214.4,556.2 L205.5,556.2 L204,558.2 L204,596.2 L205.5,598.2 L214.4,598.2" fill="none" stroke="#0a0a0a" stroke-width="1.25" /><path d="M205.5,558.2L214.4,558.2" fill="none" stroke="#0a0a0a" stroke-width="0.8" /><path d="M205.5,596.2L214.4,596.2" fill="none" stroke="#0a0a0a" stroke-width="0.8" /><path d="M207,556.2L207,598.2" fill="none" stroke="#0a0a0a" stroke-width="0.8" /><path d="M204,577.2L214.4,577.2" fill="none" stroke="#0a0a0a" stroke-width="0.8" /><path d="M285.6,524.8L285.6,556.4" fill="none" stroke="#0a0a0a" stroke-width="1.25" /><path d="M286.5,524.8L286.5,556.4" fill="none" stroke="#0a0a0a" stroke-width="1.25" /><path d="M285.6,598L285.6,618" fill="none" stroke="#0a0a0a" stroke-width="1.25" /><path d="M286.5,598L286.5,618" fill="none" stroke="#0a0a0a" stroke-width="1.25" /><path d="M57.1,468.35L99,468.35M121.25,468.35L159.05,468.35M178.75,468.35L216.55,468.35M236.25,468.35L274.05,468.35M293.75,468.35L331.55,468.35M351.25,468.35L389.05,468.35M408.75,468.35L446.55,468.35M466.25,468.35L504.05,468.35M523.75,468.35L568,468.35" fill="none" stroke="#0a0a0a" stroke-width="1.0" /><path d="M345.8,174L345.8,219.7M345.8,238.5L345.8,279.8M345.8,300L345.8,340M345.8,360L345.8,400.6M345.8,436L345.8,522.5M345.8,523L345.8,563M345.8,583.75L345.8,621" fill="none" stroke="#0a0a0a" stroke-width="1.0" /><path d="M525,198 A14.7,14.7 0 0 1 546,197 L555.5,223 L557.5,223.5 L557.5,267.3 L555.5,268.5 L549,287 A14.8,14.8 0 0 1 524,291 Q521.5,286 521,282 L513,280.5 Q508,282.3 503,278.5 Q498.3,274 499,269 Q499.5,265 501.5,262 L502,257 L514,245 L514.5,233 Q513,230.3 510,229.5 A10.5,10.5 0 1 1 518,213.5 Q520.5,211.5 521.3,207 Q522.3,201.5 525,198Z" fill="#fff" stroke="none"/><path d="M525,198 A14.7,14.7 0 0 1 546,197 L555.5,223 L557.5,223.5 L557.5,267.3 L555.5,268.5 L549,287 A14.8,14.8 0 0 1 524,291 Q521.5,286 521,282 L513,280.5 Q508,282.3 503,278.5 Q498.3,274 499,269 Q499.5,265 501.5,262 L502,257 L514,245 L514.5,233 Q513,230.3 510,229.5 A10.5,10.5 0 1 1 518,213.5 Q520.5,211.5 521.3,207 Q522.3,201.5 525,198Z" fill="none" stroke="#0a0a0a" stroke-width="1.15" /><path d="M536.0,222.5 L557.5,223.4 L629.2,227 L681,227 Q679.4,232 681,237 Q682.6,241 681,245.5 Q679.4,250 681,254.5 Q682.6,259 681,263.5 L629.2,263.5 L557.5,267.2 L536.0,267.6" fill="none" stroke="#0a0a0a" stroke-width="1.15" /><path d="M557.5,223.4L557.5,267.2" fill="none" stroke="#0a0a0a" stroke-width="1.1" /><path d="M560.6,223.6L560.6,267" fill="none" stroke="#0a0a0a" stroke-width="0.9" /><path d="M629.2,227L629.2,263.5" fill="none" stroke="#0a0a0a" stroke-width="1.1" /><path d="M633.4,227L633.4,263.5" fill="none" stroke="#0a0a0a" stroke-width="1.0" /><path d="M696.5,227 L777.8,227 A18.25,18.25 0 0 1 777.8,263.5 L696.5,263.5 Q698.1,259 696.5,254.5 Q694.9,250 696.5,245.5 Q698.1,241 696.5,237 Q694.9,232 696.5,227Z" fill="none" stroke="#0a0a0a" stroke-width="1.15" /><path d="M537.0,222.5 A22.5,22.5 0 1 0 537.0,267.5" fill="none" stroke="#0a0a0a" stroke-width="1.15" /><path d="M530,217.5 Q521,221.5 517,231" fill="none" stroke="#0a0a0a" stroke-width="1.0" /><path d="M536,269L525,280" fill="none" stroke="#0a0a0a" stroke-width="1.0" /><path d="M502.3,264 Q499.3,272 505.5,280" fill="none" stroke="#0a0a0a" stroke-width="0.9" /><circle cx="536.0" cy="245.0" r="15.6" fill="none" stroke="#0a0a0a" stroke-width="0.9"/><path d="M548.4,240.4 A13.2,13.2 0 1 0 548.4,249.6" fill="none" stroke="#0a0a0a" stroke-width="1.9" /><path d="M548.4,240.4 L550.5,237.5 L554.0,239.2 L551.0,242.2 M548.4,249.6 L550.5,252.5 L554.0,250.8 L551.0,247.8" fill="none" stroke="#0a0a0a" stroke-width="1.1" /><path d="M528.0,234.0 L544.0,234.0 M528.0,256.3 L544.0,256.3" fill="none" stroke="#0a0a0a" stroke-width="1.0" /><circle cx="536.0" cy="207.5" r="9.5" fill="none" stroke="#0a0a0a" stroke-width="1.5"/><circle cx="536.0" cy="207.5" r="8.1" fill="none" stroke="#0a0a0a" stroke-width="0.7"/><path d="M541.63,210.75 L536.0,214.0 L530.37,210.75 L530.37,204.25 L536.0,201.0 L541.63,204.25Z" fill="none" stroke="#0a0a0a" stroke-width="1.0" /><circle cx="536.0" cy="282.5" r="9.5" fill="none" stroke="#0a0a0a" stroke-width="1.5"/><circle cx="536.0" cy="282.5" r="8.1" fill="none" stroke="#0a0a0a" stroke-width="0.7"/><path d="M541.63,285.75 L536.0,289.0 L530.37,285.75 L530.37,279.25 L536.0,276.0 L541.63,279.25Z" fill="none" stroke="#0a0a0a" stroke-width="1.0" /><circle cx="509" cy="219" r="5.2" fill="none" stroke="#0a0a0a" stroke-width="1.1"/><circle cx="509" cy="271.5" r="5.2" fill="none" stroke="#0a0a0a" stroke-width="1.1"/><path d="M536.0,188L536.0,303.5" fill="none" stroke="#0a0a0a" stroke-width="0.95" /><circle cx="566" cy="238" r="0.55" fill="#0a0a0a"/><text x="599.6" y="198.3" font-family="'Liberation Sans',sans-serif" font-size="18" fill="#0a0a0a" textLength="20.5" lengthAdjust="spacingAndGlyphs">1:2</text><path d="M57.1,498L57.1,695.7" fill="none" stroke="#0a0a0a" stroke-width="1.1" /><path d="M568.4,356.3L568.4,695.7" fill="none" stroke="#0a0a0a" stroke-width="1.1" /><path d="M55.6,693.7L570,693.7" fill="none" stroke="#0a0a0a" stroke-width="1.1" /><path d="M57.3,693.7L63.3,692.5L63.3,694.9Z" fill="#0a0a0a" stroke="none"/><path d="M568.2,693.7L562.2,694.9L562.2,692.5Z" fill="#0a0a0a" stroke="none"/><text x="308.5" y="688.6" font-family="'Liberation Sans',sans-serif" font-size="21" fill="#0a0a0a" textLength="7.5" lengthAdjust="spacingAndGlyphs">L</text><path d="M521.4,374.2L564.6,431.4" fill="none" stroke="#0a0a0a" stroke-width="1.0" /><path d="M521.6,374.4 A75,75 0 0 1 568.4,357.9" fill="none" stroke="#0a0a0a" stroke-width="1.0" /><path d="M568.6,357.9L562.06,358.97L562.15,356.37Z" fill="#0a0a0a" stroke="none"/><path d="M521.4,374.6L525.89,369.73L527.42,371.83Z" fill="#0a0a0a" stroke="none"/><text transform="translate(513.3,369.0) rotate(-20.5)" x="0" y="0" font-family="'Liberation Sans',sans-serif" font-size="16" fill="#0a0a0a" textLength="64" lengthAdjust="spacingAndGlyphs">37.5±2.5°</text><path d="M565,432.6L642.5,432.6" fill="none" stroke="#0a0a0a" stroke-width="0.9" /><path d="M568.4,437L610,437" fill="none" stroke="#0a0a0a" stroke-width="0.9" /><path d="M568.4,441.6L610,441.6" fill="none" stroke="#0a0a0a" stroke-width="0.9" /><path d="M568.4,494.6L610.6,494.6" fill="none" stroke="#0a0a0a" stroke-width="0.9" /><path d="M567,504.4L642.5,504.4" fill="none" stroke="#0a0a0a" stroke-width="0.9" /><path d="M608.3,372L608.3,494.6" fill="none" stroke="#0a0a0a" stroke-width="0.9" /><path d="M640.6,432.6L640.6,504.4" fill="none" stroke="#0a0a0a" stroke-width="0.9" /><path d="M608.3,432.6L606.9,426.6L609.7,426.6Z" fill="#0a0a0a" stroke="none"/><path d="M608.3,432.6L608.3,441.6" fill="none" stroke="#0a0a0a" stroke-width="1.6" /><path d="M608.3,441.6L609.9,449.6L606.7,449.6Z" fill="#0a0a0a" stroke="none"/><path d="M608.3,494.6L606.9,487.6L609.7,487.6Z" fill="#0a0a0a" stroke="none"/><path d="M640.6,432.6L642.0,439.6L639.2,439.6Z" fill="#0a0a0a" stroke="none"/><path d="M640.6,504.4L639.2,497.4L642.0,497.4Z" fill="#0a0a0a" stroke="none"/><text transform="translate(603.8,423.5) rotate(-90)" x="0" y="0" font-family="'Liberation Sans',sans-serif" font-size="16.5" fill="#0a0a0a" textLength="47" lengthAdjust="spacingAndGlyphs">1.6±0.8</text><text transform="translate(603.8,477.5) rotate(-90)" x="0" y="0" font-family="'Liberation Sans',sans-serif" font-size="16.5" fill="#0a0a0a" textLength="16.6" lengthAdjust="spacingAndGlyphs">φd</text><text transform="translate(636.5,472.8) rotate(-90)" x="0" y="0" font-family="'Liberation Sans',sans-serif" font-size="16" fill="#0a0a0a" textLength="8.5" lengthAdjust="spacingAndGlyphs">A</text><path d="M4,186.5L25.5,186.5" fill="none" stroke="#0a0a0a" stroke-width="1.15" /><path d="M25.5,186.5L315,222.5" fill="none" stroke="#0a0a0a" stroke-width="1.15" /><text x="9.5" y="181.7" font-family="'Liberation Sans',sans-serif" font-size="21.5" fill="#0a0a0a" textLength="17" lengthAdjust="spacingAndGlyphs">16</text><path d="M4,222.25L25.5,222.25" fill="none" stroke="#0a0a0a" stroke-width="1.15" /><path d="M25.5,222.25L315,227.5" fill="none" stroke="#0a0a0a" stroke-width="1.15" /><text x="9.5" y="217.45" font-family="'Liberation Sans',sans-serif" font-size="21.5" fill="#0a0a0a" textLength="17" lengthAdjust="spacingAndGlyphs">15</text><path d="M4,269.5L25.5,269.5" fill="none" stroke="#0a0a0a" stroke-width="1.15" /><path d="M25.5,269.5L272,234.5" fill="none" stroke="#0a0a0a" stroke-width="1.15" /><text x="9.5" y="264.7" font-family="'Liberation Sans',sans-serif" font-size="21.5" fill="#0a0a0a" textLength="17" lengthAdjust="spacingAndGlyphs">14</text><path d="M4,312.75L25.5,312.75" fill="none" stroke="#0a0a0a" stroke-width="1.15" /><path d="M25.5,312.75L314,248.75" fill="none" stroke="#0a0a0a" stroke-width="1.15" /><text x="9.5" y="307.95" font-family="'Liberation Sans',sans-serif" font-size="21.5" fill="#0a0a0a" textLength="17" lengthAdjust="spacingAndGlyphs">13</text><path d="M4,347.5L25.5,347.5" fill="none" stroke="#0a0a0a" stroke-width="1.15" /><path d="M25.5,347.5L288,285.3" fill="none" stroke="#0a0a0a" stroke-width="1.15" /><text x="9.5" y="342.7" font-family="'Liberation Sans',sans-serif" font-size="21.5" fill="#0a0a0a" textLength="17" lengthAdjust="spacingAndGlyphs">12</text><path d="M4,384.25L25.5,384.25" fill="none" stroke="#0a0a0a" stroke-width="1.15" /><path d="M25.5,384.25L286.5,292.7" fill="none" stroke="#0a0a0a" stroke-width="1.15" /><text x="9.5" y="379.45" font-family="'Liberation Sans',sans-serif" font-size="21.5" fill="#0a0a0a" textLength="15" lengthAdjust="spacingAndGlyphs">11</text><path d="M4,418L25.5,418" fill="none" stroke="#0a0a0a" stroke-width="1.15" /><path d="M25.5,418L313,322.5" fill="none" stroke="#0a0a0a" stroke-width="1.15" /><text x="9.5" y="413.2" font-family="'Liberation Sans',sans-serif" font-size="21.5" fill="#0a0a0a" textLength="17" lengthAdjust="spacingAndGlyphs">10</text><path d="M4,454.25L25.5,454.25" fill="none" stroke="#0a0a0a" stroke-width="1.15" /><path d="M25.5,454.25L314,348.5" fill="none" stroke="#0a0a0a" stroke-width="1.15" /><text x="9.5" y="449.45" font-family="'Liberation Sans',sans-serif" font-size="21.5" fill="#0a0a0a" textLength="9" lengthAdjust="spacingAndGlyphs">9</text><path d="M4,485.75L25.5,485.75" fill="none" stroke="#0a0a0a" stroke-width="1.15" /><path d="M25.5,485.75L345.5,410" fill="none" stroke="#0a0a0a" stroke-width="1.15" /><text x="9.5" y="480.95" font-family="'Liberation Sans',sans-serif" font-size="21.5" fill="#0a0a0a" textLength="9" lengthAdjust="spacingAndGlyphs">8</text><path d="M4,522L25.5,522" fill="none" stroke="#0a0a0a" stroke-width="1.15" /><path d="M25.5,522L320,435" fill="none" stroke="#0a0a0a" stroke-width="1.15" /><text x="9.5" y="517.2" font-family="'Liberation Sans',sans-serif" font-size="21.5" fill="#0a0a0a" textLength="9" lengthAdjust="spacingAndGlyphs">7</text><path d="M4,557.25L25.5,557.25" fill="none" stroke="#0a0a0a" stroke-width="1.15" /><path d="M25.5,557.25L295,502" fill="none" stroke="#0a0a0a" stroke-width="1.15" /><text x="9.5" y="552.45" font-family="'Liberation Sans',sans-serif" font-size="21.5" fill="#0a0a0a" textLength="9" lengthAdjust="spacingAndGlyphs">6</text><path d="M4,592.75L25.5,592.75" fill="none" stroke="#0a0a0a" stroke-width="1.15" /><path d="M25.5,592.75L292,538" fill="none" stroke="#0a0a0a" stroke-width="1.15" /><text x="9.5" y="587.95" font-family="'Liberation Sans',sans-serif" font-size="21.5" fill="#0a0a0a" textLength="9" lengthAdjust="spacingAndGlyphs">5</text><path d="M249,650.4L264,650.4" fill="none" stroke="#0a0a0a" stroke-width="1.15" /><path d="M249,650.4L224.4,557" fill="none" stroke="#0a0a0a" stroke-width="1.15" /><text x="254.8" y="644.9" font-family="'Liberation Sans',sans-serif" font-size="21.5" fill="#0a0a0a" textLength="9" lengthAdjust="spacingAndGlyphs">4</text><path d="M298.4,654.4L313.4,654.4" fill="none" stroke="#0a0a0a" stroke-width="1.15" /><path d="M298.4,654.4L268,571" fill="none" stroke="#0a0a0a" stroke-width="1.15" /><text x="304" y="648.9" font-family="'Liberation Sans',sans-serif" font-size="21.5" fill="#0a0a0a" textLength="9" lengthAdjust="spacingAndGlyphs">3</text><path d="M348,654.4L362.4,654.4" fill="none" stroke="#0a0a0a" stroke-width="1.15" /><path d="M348,654.4L295,513" fill="none" stroke="#0a0a0a" stroke-width="1.15" /><text x="354" y="648.9" font-family="'Liberation Sans',sans-serif" font-size="21.5" fill="#0a0a0a" textLength="9" lengthAdjust="spacingAndGlyphs">2</text><path d="M406.2,654.4L421,654.4" fill="none" stroke="#0a0a0a" stroke-width="1.15" /><path d="M406.2,654.4L380,556" fill="none" stroke="#0a0a0a" stroke-width="1.15" /><text x="411" y="648.9" font-family="'Liberation Sans',sans-serif" font-size="21.5" fill="#0a0a0a" textLength="8" lengthAdjust="spacingAndGlyphs">1</text><path d="M443.5,310.6L454.5,310.6" fill="none" stroke="#0a0a0a" stroke-width="1.15" /><path d="M443.5,310.6L345,422" fill="none" stroke="#0a0a0a" stroke-width="1.15" /><text x="440.4" y="305.8" font-family="'Liberation Sans',sans-serif" font-size="21.5" fill="#0a0a0a" textLength="17" lengthAdjust="spacingAndGlyphs">17</text><path d="M395,136L424.5,136" fill="none" stroke="#0a0a0a" stroke-width="1.15" /><path d="M395,136L330,209.6" fill="none" stroke="#0a0a0a" stroke-width="1.15" /><text x="400.3" y="132.6" font-family="'Liberation Sans',sans-serif" font-size="21.5" fill="#0a0a0a" textLength="17" lengthAdjust="spacingAndGlyphs">18</text><g clip-path="url(#fc)"><path d="M671.23,510.44 L671.23,534.78 L732.69,534.78" fill="none" stroke="#000" stroke-width="4.6" stroke-linejoin="round"/><path d="M732.0,533.13 L758.13,533.13" fill="none" stroke="#000" stroke-width="2.8" stroke-linejoin="round"/><path d="M671.5,511.13 L690.06,529.69" fill="none" stroke="#000" stroke-width="3.0" stroke-linejoin="round"/><path d="M723.48,494.35 L688.0,528.73" fill="none" stroke="#000" stroke-width="3.0" stroke-linejoin="round"/><path d="M697.9,494.35 L734.48,531.48" fill="none" stroke="#000" stroke-width="3.0" stroke-linejoin="round"/><path d="M750.15,514.29 L734.48,529.96" fill="none" stroke="#000" stroke-width="3.0" stroke-linejoin="round"/><path d="M755.38,522.13 L729.25,547.98 L729.25,586.75" fill="none" stroke="#000" stroke-width="3.6" stroke-linejoin="round"/><path d="M735.44,547.56 L751.94,563.38" fill="none" stroke="#000" stroke-width="1.6" stroke-linejoin="round"/><path d="M732.28,549.35 L732.28,558.56 Q732.28,564.48 738.6,564.48 L751.25,564.48" fill="none" stroke="#000" stroke-width="3.2" stroke-linejoin="round"/><path d="M709.59,536.56 L709.59,589.5" fill="none" stroke="#000" stroke-width="4.6" stroke-linejoin="round"/><path d="M708.9,537.94 L692.68,562.0 L692.68,586.75" fill="none" stroke="#000" stroke-width="3.1" stroke-linejoin="round"/><path d="M708.35,548.53 L695.01,566.4 L695.01,587.44" fill="none" stroke="#000" stroke-width="3.1" stroke-linejoin="round"/><path d="M666.0,564.48 L693.5,564.48" fill="none" stroke="#000" stroke-width="2.8" stroke-linejoin="round"/></g><circle cx="709.7" cy="539.3" r="48.6" fill="none" stroke="#000" stroke-width="3.0"/><g clip-path="url(#ac)"><path d="M680.5,655L595.5,740M702.0,655L617.0,740M723.5,655L638.5,740M745.0,655L660.0,740M766.5,655L681.5,740M788.0,655L703.0,740M809.5,655L724.5,740M831.0,655L746.0,740" fill="none" stroke="#0a0a0a" stroke-width="1.05" clip-path="url(#c25)"/><path d="M674.5,673 C686,666.5 698,663 708,663 C728,663 750,671.5 758,685 C763.5,695 762.5,708 752,720 C743,730.5 727,733.5 714,733.5 C700,733.5 688,731 674.5,726.3Z" fill="none" stroke="#0a0a0a" stroke-width="1.1" /><path d="M674,684.5 L742,684.5 L752.8,702.5 L742,720.3 L674,720.3" fill="none" stroke="#0a0a0a" stroke-width="1.15" /><path d="M742,684.5L742,720.3" fill="none" stroke="#0a0a0a" stroke-width="1.0" /><path d="M674,702.5L752.8,702.5" fill="none" stroke="#0a0a0a" stroke-width="0.95" /><circle cx="691.6" cy="702.5" r="17.5" fill="#fff" stroke="#0a0a0a" stroke-width="1.1"/><path d="M674,702.4L709.6,702.4" fill="none" stroke="#0a0a0a" stroke-width="0.9" /><path d="M709.6,720.3 L713.4,684.8 L716.8,720.3 L722.6,684.8 L724.4,720.3 L730,684.8 L732,720.3 L737.5,684.8 L739.4,720.3 L742,684.8" fill="none" stroke="#0a0a0a" stroke-width="1.0" /><path d="M709.5,684.5L709.5,720.3" fill="none" stroke="#0a0a0a" stroke-width="1.0" /><path d="M660,645 L674,645 L674,742 L745,742" fill="none" stroke="#0a0a0a" stroke-width="1.1" /><path d="M645,668.5L674,665" fill="none" stroke="#0a0a0a" stroke-width="1.0" /></g><circle cx="707" cy="691.7" r="63" fill="none" stroke="#0a0a0a" stroke-width="1.3"/><text x="682.2" y="609.7" font-family="'Liberation Serif','Noto Serif CJK SC',serif" font-size="13" font-weight="bold" fill="#000" textLength="51.8" lengthAdjust="spacing">防火结构</text><text x="674.3" y="777.9" font-family="'Liberation Serif','Noto Serif CJK SC',serif" font-size="13.4" font-weight="bold" fill="#000" textLength="67" lengthAdjust="spacing">防静电结构</text><g style="mix-blend-mode:multiply" fill="none" stroke="#f4f5f7" stroke-width="7.2" stroke-linejoin="round"><path d="M-813.6,0L-1613.6,800M-910.4,0L-110.39999999999998,800M-593.6,0L-1393.6,800M-690.4,0L109.60000000000002,800M-373.6,0L-1173.6,800M-470.4,0L329.6,800M-153.6,0L-953.6,800M-250.4,0L549.6,800M66.4,0L-733.6,800M-30.4,0L769.6,800M286.4,0L-513.6,800M189.6,0L989.6,800M506.4,0L-293.6,800M409.6,0L1209.6,800M726.4,0L-73.60000000000002,800M629.6,0L1429.6,800M946.4,0L146.39999999999998,800M849.6,0L1649.6,800M1166.4,0L366.4000000000001,800M1069.6,0L1869.6,800M1386.4,0L586.4000000000001,800M1289.6,0L2089.6,800M1606.4,0L806.4000000000001,800M1509.6,0L2309.6,800M1826.4,0L1026.4,800M1729.6,0L2529.6,800" stroke-width="1.3"/><path d="M4.5,0.4 L4.5,20 Q4.5,24.4 9,24.4 L22.5,24.4 Q27,24.4 27,20 L27,0.4 M15.8,0.4 L15.8,24 M35.5,4.2 L35.5,24.4 L43.5,24.4 Q48,24.4 48,19.4 Q48,14.3 43.5,14.3 L36,14.3 M35.5,4.2 L43,4.2 Q47.3,4.2 47.3,9.2 Q47.3,14.3 43,14.3 M55,0.4 L57.3,19 Q58.2,24.4 61,24.4 Q63.8,24.4 64.4,19 L66.3,0.4" transform="translate(-121.4,-75.55) skewX(-11) scale(0.9,1)"/><path d="M4.5,0.4 L4.5,20 Q4.5,24.4 9,24.4 L22.5,24.4 Q27,24.4 27,20 L27,0.4 M15.8,0.4 L15.8,24 M35.5,4.2 L35.5,24.4 L43.5,24.4 Q48,24.4 48,19.4 Q48,14.3 43.5,14.3 L36,14.3 M35.5,4.2 L43,4.2 Q47.3,4.2 47.3,9.2 Q47.3,14.3 43,14.3 M55,0.4 L57.3,19 Q58.2,24.4 61,24.4 Q63.8,24.4 64.4,19 L66.3,0.4" transform="translate(98.6,-75.55) skewX(-11) scale(0.9,1)"/><path d="M4.5,0.4 L4.5,20 Q4.5,24.4 9,24.4 L22.5,24.4 Q27,24.4 27,20 L27,0.4 M15.8,0.4 L15.8,24 M35.5,4.2 L35.5,24.4 L43.5,24.4 Q48,24.4 48,19.4 Q48,14.3 43.5,14.3 L36,14.3 M35.5,4.2 L43,4.2 Q47.3,4.2 47.3,9.2 Q47.3,14.3 43,14.3 M55,0.4 L57.3,19 Q58.2,24.4 61,24.4 Q63.8,24.4 64.4,19 L66.3,0.4" transform="translate(318.6,-75.55) skewX(-11) scale(0.9,1)"/><path d="M4.5,0.4 L4.5,20 Q4.5,24.4 9,24.4 L22.5,24.4 Q27,24.4 27,20 L27,0.4 M15.8,0.4 L15.8,24 M35.5,4.2 L35.5,24.4 L43.5,24.4 Q48,24.4 48,19.4 Q48,14.3 43.5,14.3 L36,14.3 M35.5,4.2 L43,4.2 Q47.3,4.2 47.3,9.2 Q47.3,14.3 43,14.3 M55,0.4 L57.3,19 Q58.2,24.4 61,24.4 Q63.8,24.4 64.4,19 L66.3,0.4" transform="translate(538.6,-75.55) skewX(-11) scale(0.9,1)"/><path d="M4.5,0.4 L4.5,20 Q4.5,24.4 9,24.4 L22.5,24.4 Q27,24.4 27,20 L27,0.4 M15.8,0.4 L15.8,24 M35.5,4.2 L35.5,24.4 L43.5,24.4 Q48,24.4 48,19.4 Q48,14.3 43.5,14.3 L36,14.3 M35.5,4.2 L43,4.2 Q47.3,4.2 47.3,9.2 Q47.3,14.3 43,14.3 M55,0.4 L57.3,19 Q58.2,24.4 61,24.4 Q63.8,24.4 64.4,19 L66.3,0.4" transform="translate(758.6,-75.55) skewX(-11) scale(0.9,1)"/><path d="M4.5,0.4 L4.5,20 Q4.5,24.4 9,24.4 L22.5,24.4 Q27,24.4 27,20 L27,0.4 M15.8,0.4 L15.8,24 M35.5,4.2 L35.5,24.4 L43.5,24.4 Q48,24.4 48,19.4 Q48,14.3 43.5,14.3 L36,14.3 M35.5,4.2 L43,4.2 Q47.3,4.2 47.3,9.2 Q47.3,14.3 43,14.3 M55,0.4 L57.3,19 Q58.2,24.4 61,24.4 Q63.8,24.4 64.4,19 L66.3,0.4" transform="translate(978.6,-75.55) skewX(-11) scale(0.9,1)"/><path d="M4.5,0.4 L4.5,20 Q4.5,24.4 9,24.4 L22.5,24.4 Q27,24.4 27,20 L27,0.4 M15.8,0.4 L15.8,24 M35.5,4.2 L35.5,24.4 L43.5,24.4 Q48,24.4 48,19.4 Q48,14.3 43.5,14.3 L36,14.3 M35.5,4.2 L43,4.2 Q47.3,4.2 47.3,9.2 Q47.3,14.3 43,14.3 M55,0.4 L57.3,19 Q58.2,24.4 61,24.4 Q63.8,24.4 64.4,19 L66.3,0.4" transform="translate(-231.4,34.45) skewX(-11) scale(0.9,1)"/><path d="M4.5,0.4 L4.5,20 Q4.5,24.4 9,24.4 L22.5,24.4 Q27,24.4 27,20 L27,0.4 M15.8,0.4 L15.8,24 M35.5,4.2 L35.5,24.4 L43.5,24.4 Q48,24.4 48,19.4 Q48,14.3 43.5,14.3 L36,14.3 M35.5,4.2 L43,4.2 Q47.3,4.2 47.3,9.2 Q47.3,14.3 43,14.3 M55,0.4 L57.3,19 Q58.2,24.4 61,24.4 Q63.8,24.4 64.4,19 L66.3,0.4" transform="translate(-11.4,34.45) skewX(-11) scale(0.9,1)"/><path d="M4.5,0.4 L4.5,20 Q4.5,24.4 9,24.4 L22.5,24.4 Q27,24.4 27,20 L27,0.4 M15.8,0.4 L15.8,24 M35.5,4.2 L35.5,24.4 L43.5,24.4 Q48,24.4 48,19.4 Q48,14.3 43.5,14.3 L36,14.3 M35.5,4.2 L43,4.2 Q47.3,4.2 47.3,9.2 Q47.3,14.3 43,14.3 M55,0.4 L57.3,19 Q58.2,24.4 61,24.4 Q63.8,24.4 64.4,19 L66.3,0.4" transform="translate(208.6,34.45) skewX(-11) scale(0.9,1)"/><path d="M4.5,0.4 L4.5,20 Q4.5,24.4 9,24.4 L22.5,24.4 Q27,24.4 27,20 L27,0.4 M15.8,0.4 L15.8,24 M35.5,4.2 L35.5,24.4 L43.5,24.4 Q48,24.4 48,19.4 Q48,14.3 43.5,14.3 L36,14.3 M35.5,4.2 L43,4.2 Q47.3,4.2 47.3,9.2 Q47.3,14.3 43,14.3 M55,0.4 L57.3,19 Q58.2,24.4 61,24.4 Q63.8,24.4 64.4,19 L66.3,0.4" transform="translate(428.6,34.45) skewX(-11) scale(0.9,1)"/><path d="M4.5,0.4 L4.5,20 Q4.5,24.4 9,24.4 L22.5,24.4 Q27,24.4 27,20 L27,0.4 M15.8,0.4 L15.8,24 M35.5,4.2 L35.5,24.4 L43.5,24.4 Q48,24.4 48,19.4 Q48,14.3 43.5,14.3 L36,14.3 M35.5,4.2 L43,4.2 Q47.3,4.2 47.3,9.2 Q47.3,14.3 43,14.3 M55,0.4 L57.3,19 Q58.2,24.4 61,24.4 Q63.8,24.4 64.4,19 L66.3,0.4" transform="translate(648.6,34.45) skewX(-11) scale(0.9,1)"/><path d="M4.5,0.4 L4.5,20 Q4.5,24.4 9,24.4 L22.5,24.4 Q27,24.4 27,20 L27,0.4 M15.8,0.4 L15.8,24 M35.5,4.2 L35.5,24.4 L43.5,24.4 Q48,24.4 48,19.4 Q48,14.3 43.5,14.3 L36,14.3 M35.5,4.2 L43,4.2 Q47.3,4.2 47.3,9.2 Q47.3,14.3 43,14.3 M55,0.4 L57.3,19 Q58.2,24.4 61,24.4 Q63.8,24.4 64.4,19 L66.3,0.4" transform="translate(868.6,34.45) skewX(-11) scale(0.9,1)"/><path d="M4.5,0.4 L4.5,20 Q4.5,24.4 9,24.4 L22.5,24.4 Q27,24.4 27,20 L27,0.4 M15.8,0.4 L15.8,24 M35.5,4.2 L35.5,24.4 L43.5,24.4 Q48,24.4 48,19.4 Q48,14.3 43.5,14.3 L36,14.3 M35.5,4.2 L43,4.2 Q47.3,4.2 47.3,9.2 Q47.3,14.3 43,14.3 M55,0.4 L57.3,19 Q58.2,24.4 61,24.4 Q63.8,24.4 64.4,19 L66.3,0.4" transform="translate(-121.4,144.45) skewX(-11) scale(0.9,1)"/><path d="M4.5,0.4 L4.5,20 Q4.5,24.4 9,24.4 L22.5,24.4 Q27,24.4 27,20 L27,0.4 M15.8,0.4 L15.8,24 M35.5,4.2 L35.5,24.4 L43.5,24.4 Q48,24.4 48,19.4 Q48,14.3 43.5,14.3 L36,14.3 M35.5,4.2 L43,4.2 Q47.3,4.2 47.3,9.2 Q47.3,14.3 43,14.3 M55,0.4 L57.3,19 Q58.2,24.4 61,24.4 Q63.8,24.4 64.4,19 L66.3,0.4" transform="translate(98.6,144.45) skewX(-11) scale(0.9,1)"/><path d="M4.5,0.4 L4.5,20 Q4.5,24.4 9,24.4 L22.5,24.4 Q27,24.4 27,20 L27,0.4 M15.8,0.4 L15.8,24 M35.5,4.2 L35.5,24.4 L43.5,24.4 Q48,24.4 48,19.4 Q48,14.3 43.5,14.3 L36,14.3 M35.5,4.2 L43,4.2 Q47.3,4.2 47.3,9.2 Q47.3,14.3 43,14.3 M55,0.4 L57.3,19 Q58.2,24.4 61,24.4 Q63.8,24.4 64.4,19 L66.3,0.4" transform="translate(318.6,144.45) skewX(-11) scale(0.9,1)"/><path d="M4.5,0.4 L4.5,20 Q4.5,24.4 9,24.4 L22.5,24.4 Q27,24.4 27,20 L27,0.4 M15.8,0.4 L15.8,24 M35.5,4.2 L35.5,24.4 L43.5,24.4 Q48,24.4 48,19.4 Q48,14.3 43.5,14.3 L36,14.3 M35.5,4.2 L43,4.2 Q47.3,4.2 47.3,9.2 Q47.3,14.3 43,14.3 M55,0.4 L57.3,19 Q58.2,24.4 61,24.4 Q63.8,24.4 64.4,19 L66.3,0.4" transform="translate(538.6,144.45) skewX(-11) scale(0.9,1)"/><path d="M4.5,0.4 L4.5,20 Q4.5,24.4 9,24.4 L22.5,24.4 Q27,24.4 27,20 L27,0.4 M15.8,0.4 L15.8,24 M35.5,4.2 L35.5,24.4 L43.5,24.4 Q48,24.4 48,19.4 Q48,14.3 43.5,14.3 L36,14.3 M35.5,4.2 L43,4.2 Q47.3,4.2 47.3,9.2 Q47.3,14.3 43,14.3 M55,0.4 L57.3,19 Q58.2,24.4 61,24.4 Q63.8,24.4 64.4,19 L66.3,0.4" transform="translate(758.6,144.45) skewX(-11) scale(0.9,1)"/><path d="M4.5,0.4 L4.5,20 Q4.5,24.4 9,24.4 L22.5,24.4 Q27,24.4 27,20 L27,0.4 M15.8,0.4 L15.8,24 M35.5,4.2 L35.5,24.4 L43.5,24.4 Q48,24.4 48,19.4 Q48,14.3 43.5,14.3 L36,14.3 M35.5,4.2 L43,4.2 Q47.3,4.2 47.3,9.2 Q47.3,14.3 43,14.3 M55,0.4 L57.3,19 Q58.2,24.4 61,24.4 Q63.8,24.4 64.4,19 L66.3,0.4" transform="translate(978.6,144.45) skewX(-11) scale(0.9,1)"/><path d="M4.5,0.4 L4.5,20 Q4.5,24.4 9,24.4 L22.5,24.4 Q27,24.4 27,20 L27,0.4 M15.8,0.4 L15.8,24 M35.5,4.2 L35.5,24.4 L43.5,24.4 Q48,24.4 48,19.4 Q48,14.3 43.5,14.3 L36,14.3 M35.5,4.2 L43,4.2 Q47.3,4.2 47.3,9.2 Q47.3,14.3 43,14.3 M55,0.4 L57.3,19 Q58.2,24.4 61,24.4 Q63.8,24.4 64.4,19 L66.3,0.4" transform="translate(-231.4,254.45) skewX(-11) scale(0.9,1)"/><path d="M4.5,0.4 L4.5,20 Q4.5,24.4 9,24.4 L22.5,24.4 Q27,24.4 27,20 L27,0.4 M15.8,0.4 L15.8,24 M35.5,4.2 L35.5,24.4 L43.5,24.4 Q48,24.4 48,19.4 Q48,14.3 43.5,14.3 L36,14.3 M35.5,4.2 L43,4.2 Q47.3,4.2 47.3,9.2 Q47.3,14.3 43,14.3 M55,0.4 L57.3,19 Q58.2,24.4 61,24.4 Q63.8,24.4 64.4,19 L66.3,0.4" transform="translate(-11.4,254.45) skewX(-11) scale(0.9,1)"/><path d="M4.5,0.4 L4.5,20 Q4.5,24.4 9,24.4 L22.5,24.4 Q27,24.4 27,20 L27,0.4 M15.8,0.4 L15.8,24 M35.5,4.2 L35.5,24.4 L43.5,24.4 Q48,24.4 48,19.4 Q48,14.3 43.5,14.3 L36,14.3 M35.5,4.2 L43,4.2 Q47.3,4.2 47.3,9.2 Q47.3,14.3 43,14.3 M55,0.4 L57.3,19 Q58.2,24.4 61,24.4 Q63.8,24.4 64.4,19 L66.3,0.4" transform="translate(208.6,254.45) skewX(-11) scale(0.9,1)"/><path d="M4.5,0.4 L4.5,20 Q4.5,24.4 9,24.4 L22.5,24.4 Q27,24.4 27,20 L27,0.4 M15.8,0.4 L15.8,24 M35.5,4.2 L35.5,24.4 L43.5,24.4 Q48,24.4 48,19.4 Q48,14.3 43.5,14.3 L36,14.3 M35.5,4.2 L43,4.2 Q47.3,4.2 47.3,9.2 Q47.3,14.3 43,14.3 M55,0.4 L57.3,19 Q58.2,24.4 61,24.4 Q63.8,24.4 64.4,19 L66.3,0.4" transform="translate(428.6,254.45) skewX(-11) scale(0.9,1)"/><path d="M4.5,0.4 L4.5,20 Q4.5,24.4 9,24.4 L22.5,24.4 Q27,24.4 27,20 L27,0.4 M15.8,0.4 L15.8,24 M35.5,4.2 L35.5,24.4 L43.5,24.4 Q48,24.4 48,19.4 Q48,14.3 43.5,14.3 L36,14.3 M35.5,4.2 L43,4.2 Q47.3,4.2 47.3,9.2 Q47.3,14.3 43,14.3 M55,0.4 L57.3,19 Q58.2,24.4 61,24.4 Q63.8,24.4 64.4,19 L66.3,0.4" transform="translate(648.6,254.45) skewX(-11) scale(0.9,1)"/><path d="M4.5,0.4 L4.5,20 Q4.5,24.4 9,24.4 L22.5,24.4 Q27,24.4 27,20 L27,0.4 M15.8,0.4 L15.8,24 M35.5,4.2 L35.5,24.4 L43.5,24.4 Q48,24.4 48,19.4 Q48,14.3 43.5,14.3 L36,14.3 M35.5,4.2 L43,4.2 Q47.3,4.2 47.3,9.2 Q47.3,14.3 43,14.3 M55,0.4 L57.3,19 Q58.2,24.4 61,24.4 Q63.8,24.4 64.4,19 L66.3,0.4" transform="translate(868.6,254.45) skewX(-11) scale(0.9,1)"/><path d="M4.5,0.4 L4.5,20 Q4.5,24.4 9,24.4 L22.5,24.4 Q27,24.4 27,20 L27,0.4 M15.8,0.4 L15.8,24 M35.5,4.2 L35.5,24.4 L43.5,24.4 Q48,24.4 48,19.4 Q48,14.3 43.5,14.3 L36,14.3 M35.5,4.2 L43,4.2 Q47.3,4.2 47.3,9.2 Q47.3,14.3 43,14.3 M55,0.4 L57.3,19 Q58.2,24.4 61,24.4 Q63.8,24.4 64.4,19 L66.3,0.4" transform="translate(-121.4,364.45) skewX(-11) scale(0.9,1)"/><path d="M4.5,0.4 L4.5,20 Q4.5,24.4 9,24.4 L22.5,24.4 Q27,24.4 27,20 L27,0.4 M15.8,0.4 L15.8,24 M35.5,4.2 L35.5,24.4 L43.5,24.4 Q48,24.4 48,19.4 Q48,14.3 43.5,14.3 L36,14.3 M35.5,4.2 L43,4.2 Q47.3,4.2 47.3,9.2 Q47.3,14.3 43,14.3 M55,0.4 L57.3,19 Q58.2,24.4 61,24.4 Q63.8,24.4 64.4,19 L66.3,0.4" transform="translate(98.6,364.45) skewX(-11) scale(0.9,1)"/><path d="M4.5,0.4 L4.5,20 Q4.5,24.4 9,24.4 L22.5,24.4 Q27,24.4 27,20 L27,0.4 M15.8,0.4 L15.8,24 M35.5,4.2 L35.5,24.4 L43.5,24.4 Q48,24.4 48,19.4 Q48,14.3 43.5,14.3 L36,14.3 M35.5,4.2 L43,4.2 Q47.3,4.2 47.3,9.2 Q47.3,14.3 43,14.3 M55,0.4 L57.3,19 Q58.2,24.4 61,24.4 Q63.8,24.4 64.4,19 L66.3,0.4" transform="translate(318.6,364.45) skewX(-11) scale(0.9,1)"/><path d="M4.5,0.4 L4.5,20 Q4.5,24.4 9,24.4 L22.5,24.4 Q27,24.4 27,20 L27,0.4 M15.8,0.4 L15.8,24 M35.5,4.2 L35.5,24.4 L43.5,24.4 Q48,24.4 48,19.4 Q48,14.3 43.5,14.3 L36,14.3 M35.5,4.2 L43,4.2 Q47.3,4.2 47.3,9.2 Q47.3,14.3 43,14.3 M55,0.4 L57.3,19 Q58.2,24.4 61,24.4 Q63.8,24.4 64.4,19 L66.3,0.4" transform="translate(538.6,364.45) skewX(-11) scale(0.9,1)"/><path d="M4.5,0.4 L4.5,20 Q4.5,24.4 9,24.4 L22.5,24.4 Q27,24.4 27,20 L27,0.4 M15.8,0.4 L15.8,24 M35.5,4.2 L35.5,24.4 L43.5,24.4 Q48,24.4 48,19.4 Q48,14.3 43.5,14.3 L36,14.3 M35.5,4.2 L43,4.2 Q47.3,4.2 47.3,9.2 Q47.3,14.3 43,14.3 M55,0.4 L57.3,19 Q58.2,24.4 61,24.4 Q63.8,24.4 64.4,19 L66.3,0.4" transform="translate(758.6,364.45) skewX(-11) scale(0.9,1)"/><path d="M4.5,0.4 L4.5,20 Q4.5,24.4 9,24.4 L22.5,24.4 Q27,24.4 27,20 L27,0.4 M15.8,0.4 L15.8,24 M35.5,4.2 L35.5,24.4 L43.5,24.4 Q48,24.4 48,19.4 Q48,14.3 43.5,14.3 L36,14.3 M35.5,4.2 L43,4.2 Q47.3,4.2 47.3,9.2 Q47.3,14.3 43,14.3 M55,0.4 L57.3,19 Q58.2,24.4 61,24.4 Q63.8,24.4 64.4,19 L66.3,0.4" transform="translate(978.6,364.45) skewX(-11) scale(0.9,1)"/><path d="M4.5,0.4 L4.5,20 Q4.5,24.4 9,24.4 L22.5,24.4 Q27,24.4 27,20 L27,0.4 M15.8,0.4 L15.8,24 M35.5,4.2 L35.5,24.4 L43.5,24.4 Q48,24.4 48,19.4 Q48,14.3 43.5,14.3 L36,14.3 M35.5,4.2 L43,4.2 Q47.3,4.2 47.3,9.2 Q47.3,14.3 43,14.3 M55,0.4 L57.3,19 Q58.2,24.4 61,24.4 Q63.8,24.4 64.4,19 L66.3,0.4" transform="translate(-231.4,474.45) skewX(-11) scale(0.9,1)"/><path d="M4.5,0.4 L4.5,20 Q4.5,24.4 9,24.4 L22.5,24.4 Q27,24.4 27,20 L27,0.4 M15.8,0.4 L15.8,24 M35.5,4.2 L35.5,24.4 L43.5,24.4 Q48,24.4 48,19.4 Q48,14.3 43.5,14.3 L36,14.3 M35.5,4.2 L43,4.2 Q47.3,4.2 47.3,9.2 Q47.3,14.3 43,14.3 M55,0.4 L57.3,19 Q58.2,24.4 61,24.4 Q63.8,24.4 64.4,19 L66.3,0.4" transform="translate(-11.4,474.45) skewX(-11) scale(0.9,1)"/><path d="M4.5,0.4 L4.5,20 Q4.5,24.4 9,24.4 L22.5,24.4 Q27,24.4 27,20 L27,0.4 M15.8,0.4 L15.8,24 M35.5,4.2 L35.5,24.4 L43.5,24.4 Q48,24.4 48,19.4 Q48,14.3 43.5,14.3 L36,14.3 M35.5,4.2 L43,4.2 Q47.3,4.2 47.3,9.2 Q47.3,14.3 43,14.3 M55,0.4 L57.3,19 Q58.2,24.4 61,24.4 Q63.8,24.4 64.4,19 L66.3,0.4" transform="translate(208.6,474.45) skewX(-11) scale(0.9,1)"/><path d="M4.5,0.4 L4.5,20 Q4.5,24.4 9,24.4 L22.5,24.4 Q27,24.4 27,20 L27,0.4 M15.8,0.4 L15.8,24 M35.5,4.2 L35.5,24.4 L43.5,24.4 Q48,24.4 48,19.4 Q48,14.3 43.5,14.3 L36,14.3 M35.5,4.2 L43,4.2 Q47.3,4.2 47.3,9.2 Q47.3,14.3 43,14.3 M55,0.4 L57.3,19 Q58.2,24.4 61,24.4 Q63.8,24.4 64.4,19 L66.3,0.4" transform="translate(428.6,474.45) skewX(-11) scale(0.9,1)"/><path d="M4.5,0.4 L4.5,20 Q4.5,24.4 9,24.4 L22.5,24.4 Q27,24.4 27,20 L27,0.4 M15.8,0.4 L15.8,24 M35.5,4.2 L35.5,24.4 L43.5,24.4 Q48,24.4 48,19.4 Q48,14.3 43.5,14.3 L36,14.3 M35.5,4.2 L43,4.2 Q47.3,4.2 47.3,9.2 Q47.3,14.3 43,14.3 M55,0.4 L57.3,19 Q58.2,24.4 61,24.4 Q63.8,24.4 64.4,19 L66.3,0.4" transform="translate(648.6,474.45) skewX(-11) scale(0.9,1)"/><path d="M4.5,0.4 L4.5,20 Q4.5,24.4 9,24.4 L22.5,24.4 Q27,24.4 27,20 L27,0.4 M15.8,0.4 L15.8,24 M35.5,4.2 L35.5,24.4 L43.5,24.4 Q48,24.4 48,19.4 Q48,14.3 43.5,14.3 L36,14.3 M35.5,4.2 L43,4.2 Q47.3,4.2 47.3,9.2 Q47.3,14.3 43,14.3 M55,0.4 L57.3,19 Q58.2,24.4 61,24.4 Q63.8,24.4 64.4,19 L66.3,0.4" transform="translate(868.6,474.45) skewX(-11) scale(0.9,1)"/><path d="M4.5,0.4 L4.5,20 Q4.5,24.4 9,24.4 L22.5,24.4 Q27,24.4 27,20 L27,0.4 M15.8,0.4 L15.8,24 M35.5,4.2 L35.5,24.4 L43.5,24.4 Q48,24.4 48,19.4 Q48,14.3 43.5,14.3 L36,14.3 M35.5,4.2 L43,4.2 Q47.3,4.2 47.3,9.2 Q47.3,14.3 43,14.3 M55,0.4 L57.3,19 Q58.2,24.4 61,24.4 Q63.8,24.4 64.4,19 L66.3,0.4" transform="translate(-121.4,584.45) skewX(-11) scale(0.9,1)"/><path d="M4.5,0.4 L4.5,20 Q4.5,24.4 9,24.4 L22.5,24.4 Q27,24.4 27,20 L27,0.4 M15.8,0.4 L15.8,24 M35.5,4.2 L35.5,24.4 L43.5,24.4 Q48,24.4 48,19.4 Q48,14.3 43.5,14.3 L36,14.3 M35.5,4.2 L43,4.2 Q47.3,4.2 47.3,9.2 Q47.3,14.3 43,14.3 M55,0.4 L57.3,19 Q58.2,24.4 61,24.4 Q63.8,24.4 64.4,19 L66.3,0.4" transform="translate(98.6,584.45) skewX(-11) scale(0.9,1)"/><path d="M4.5,0.4 L4.5,20 Q4.5,24.4 9,24.4 L22.5,24.4 Q27,24.4 27,20 L27,0.4 M15.8,0.4 L15.8,24 M35.5,4.2 L35.5,24.4 L43.5,24.4 Q48,24.4 48,19.4 Q48,14.3 43.5,14.3 L36,14.3 M35.5,4.2 L43,4.2 Q47.3,4.2 47.3,9.2 Q47.3,14.3 43,14.3 M55,0.4 L57.3,19 Q58.2,24.4 61,24.4 Q63.8,24.4 64.4,19 L66.3,0.4" transform="translate(318.6,584.45) skewX(-11) scale(0.9,1)"/><path d="M4.5,0.4 L4.5,20 Q4.5,24.4 9,24.4 L22.5,24.4 Q27,24.4 27,20 L27,0.4 M15.8,0.4 L15.8,24 M35.5,4.2 L35.5,24.4 L43.5,24.4 Q48,24.4 48,19.4 Q48,14.3 43.5,14.3 L36,14.3 M35.5,4.2 L43,4.2 Q47.3,4.2 47.3,9.2 Q47.3,14.3 43,14.3 M55,0.4 L57.3,19 Q58.2,24.4 61,24.4 Q63.8,24.4 64.4,19 L66.3,0.4" transform="translate(538.6,584.45) skewX(-11) scale(0.9,1)"/><path d="M4.5,0.4 L4.5,20 Q4.5,24.4 9,24.4 L22.5,24.4 Q27,24.4 27,20 L27,0.4 M15.8,0.4 L15.8,24 M35.5,4.2 L35.5,24.4 L43.5,24.4 Q48,24.4 48,19.4 Q48,14.3 43.5,14.3 L36,14.3 M35.5,4.2 L43,4.2 Q47.3,4.2 47.3,9.2 Q47.3,14.3 43,14.3 M55,0.4 L57.3,19 Q58.2,24.4 61,24.4 Q63.8,24.4 64.4,19 L66.3,0.4" transform="translate(758.6,584.45) skewX(-11) scale(0.9,1)"/><path d="M4.5,0.4 L4.5,20 Q4.5,24.4 9,24.4 L22.5,24.4 Q27,24.4 27,20 L27,0.4 M15.8,0.4 L15.8,24 M35.5,4.2 L35.5,24.4 L43.5,24.4 Q48,24.4 48,19.4 Q48,14.3 43.5,14.3 L36,14.3 M35.5,4.2 L43,4.2 Q47.3,4.2 47.3,9.2 Q47.3,14.3 43,14.3 M55,0.4 L57.3,19 Q58.2,24.4 61,24.4 Q63.8,24.4 64.4,19 L66.3,0.4" transform="translate(978.6,584.45) skewX(-11) scale(0.9,1)"/><path d="M4.5,0.4 L4.5,20 Q4.5,24.4 9,24.4 L22.5,24.4 Q27,24.4 27,20 L27,0.4 M15.8,0.4 L15.8,24 M35.5,4.2 L35.5,24.4 L43.5,24.4 Q48,24.4 48,19.4 Q48,14.3 43.5,14.3 L36,14.3 M35.5,4.2 L43,4.2 Q47.3,4.2 47.3,9.2 Q47.3,14.3 43,14.3 M55,0.4 L57.3,19 Q58.2,24.4 61,24.4 Q63.8,24.4 64.4,19 L66.3,0.4" transform="translate(-231.4,694.45) skewX(-11) scale(0.9,1)"/><path d="M4.5,0.4 L4.5,20 Q4.5,24.4 9,24.4 L22.5,24.4 Q27,24.4 27,20 L27,0.4 M15.8,0.4 L15.8,24 M35.5,4.2 L35.5,24.4 L43.5,24.4 Q48,24.4 48,19.4 Q48,14.3 43.5,14.3 L36,14.3 M35.5,4.2 L43,4.2 Q47.3,4.2 47.3,9.2 Q47.3,14.3 43,14.3 M55,0.4 L57.3,19 Q58.2,24.4 61,24.4 Q63.8,24.4 64.4,19 L66.3,0.4" transform="translate(-11.4,694.45) skewX(-11) scale(0.9,1)"/><path d="M4.5,0.4 L4.5,20 Q4.5,24.4 9,24.4 L22.5,24.4 Q27,24.4 27,20 L27,0.4 M15.8,0.4 L15.8,24 M35.5,4.2 L35.5,24.4 L43.5,24.4 Q48,24.4 48,19.4 Q48,14.3 43.5,14.3 L36,14.3 M35.5,4.2 L43,4.2 Q47.3,4.2 47.3,9.2 Q47.3,14.3 43,14.3 M55,0.4 L57.3,19 Q58.2,24.4 61,24.4 Q63.8,24.4 64.4,19 L66.3,0.4" transform="translate(208.6,694.45) skewX(-11) scale(0.9,1)"/><path d="M4.5,0.4 L4.5,20 Q4.5,24.4 9,24.4 L22.5,24.4 Q27,24.4 27,20 L27,0.4 M15.8,0.4 L15.8,24 M35.5,4.2 L35.5,24.4 L43.5,24.4 Q48,24.4 48,19.4 Q48,14.3 43.5,14.3 L36,14.3 M35.5,4.2 L43,4.2 Q47.3,4.2 47.3,9.2 Q47.3,14.3 43,14.3 M55,0.4 L57.3,19 Q58.2,24.4 61,24.4 Q63.8,24.4 64.4,19 L66.3,0.4" transform="translate(428.6,694.45) skewX(-11) scale(0.9,1)"/><path d="M4.5,0.4 L4.5,20 Q4.5,24.4 9,24.4 L22.5,24.4 Q27,24.4 27,20 L27,0.4 M15.8,0.4 L15.8,24 M35.5,4.2 L35.5,24.4 L43.5,24.4 Q48,24.4 48,19.4 Q48,14.3 43.5,14.3 L36,14.3 M35.5,4.2 L43,4.2 Q47.3,4.2 47.3,9.2 Q47.3,14.3 43,14.3 M55,0.4 L57.3,19 Q58.2,24.4 61,24.4 Q63.8,24.4 64.4,19 L66.3,0.4" transform="translate(648.6,694.45) skewX(-11) scale(0.9,1)"/><path d="M4.5,0.4 L4.5,20 Q4.5,24.4 9,24.4 L22.5,24.4 Q27,24.4 27,20 L27,0.4 M15.8,0.4 L15.8,24 M35.5,4.2 L35.5,24.4 L43.5,24.4 Q48,24.4 48,19.4 Q48,14.3 43.5,14.3 L36,14.3 M35.5,4.2 L43,4.2 Q47.3,4.2 47.3,9.2 Q47.3,14.3 43,14.3 M55,0.4 L57.3,19 Q58.2,24.4 61,24.4 Q63.8,24.4 64.4,19 L66.3,0.4" transform="translate(868.6,694.45) skewX(-11) scale(0.9,1)"/><path d="M4.5,0.4 L4.5,20 Q4.5,24.4 9,24.4 L22.5,24.4 Q27,24.4 27,20 L27,0.4 M15.8,0.4 L15.8,24 M35.5,4.2 L35.5,24.4 L43.5,24.4 Q48,24.4 48,19.4 Q48,14.3 43.5,14.3 L36,14.3 M35.5,4.2 L43,4.2 Q47.3,4.2 47.3,9.2 Q47.3,14.3 43,14.3 M55,0.4 L57.3,19 Q58.2,24.4 61,24.4 Q63.8,24.4 64.4,19 L66.3,0.4" transform="translate(-121.4,804.45) skewX(-11) scale(0.9,1)"/><path d="M4.5,0.4 L4.5,20 Q4.5,24.4 9,24.4 L22.5,24.4 Q27,24.4 27,20 L27,0.4 M15.8,0.4 L15.8,24 M35.5,4.2 L35.5,24.4 L43.5,24.4 Q48,24.4 48,19.4 Q48,14.3 43.5,14.3 L36,14.3 M35.5,4.2 L43,4.2 Q47.3,4.2 47.3,9.2 Q47.3,14.3 43,14.3 M55,0.4 L57.3,19 Q58.2,24.4 61,24.4 Q63.8,24.4 64.4,19 L66.3,0.4" transform="translate(98.6,804.45) skewX(-11) scale(0.9,1)"/><path d="M4.5,0.4 L4.5,20 Q4.5,24.4 9,24.4 L22.5,24.4 Q27,24.4 27,20 L27,0.4 M15.8,0.4 L15.8,24 M35.5,4.2 L35.5,24.4 L43.5,24.4 Q48,24.4 48,19.4 Q48,14.3 43.5,14.3 L36,14.3 M35.5,4.2 L43,4.2 Q47.3,4.2 47.3,9.2 Q47.3,14.3 43,14.3 M55,0.4 L57.3,19 Q58.2,24.4 61,24.4 Q63.8,24.4 64.4,19 L66.3,0.4" transform="translate(318.6,804.45) skewX(-11) scale(0.9,1)"/><path d="M4.5,0.4 L4.5,20 Q4.5,24.4 9,24.4 L22.5,24.4 Q27,24.4 27,20 L27,0.4 M15.8,0.4 L15.8,24 M35.5,4.2 L35.5,24.4 L43.5,24.4 Q48,24.4 48,19.4 Q48,14.3 43.5,14.3 L36,14.3 M35.5,4.2 L43,4.2 Q47.3,4.2 47.3,9.2 Q47.3,14.3 43,14.3 M55,0.4 L57.3,19 Q58.2,24.4 61,24.4 Q63.8,24.4 64.4,19 L66.3,0.4" transform="translate(538.6,804.45) skewX(-11) scale(0.9,1)"/><path d="M4.5,0.4 L4.5,20 Q4.5,24.4 9,24.4 L22.5,24.4 Q27,24.4 27,20 L27,0.4 M15.8,0.4 L15.8,24 M35.5,4.2 L35.5,24.4 L43.5,24.4 Q48,24.4 48,19.4 Q48,14.3 43.5,14.3 L36,14.3 M35.5,4.2 L43,4.2 Q47.3,4.2 47.3,9.2 Q47.3,14.3 43,14.3 M55,0.4 L57.3,19 Q58.2,24.4 61,24.4 Q63.8,24.4 64.4,19 L66.3,0.4" transform="translate(758.6,804.45) skewX(-11) scale(0.9,1)"/><path d="M4.5,0.4 L4.5,20 Q4.5,24.4 9,24.4 L22.5,24.4 Q27,24.4 27,20 L27,0.4 M15.8,0.4 L15.8,24 M35.5,4.2 L35.5,24.4 L43.5,24.4 Q48,24.4 48,19.4 Q48,14.3 43.5,14.3 L36,14.3 M35.5,4.2 L43,4.2 Q47.3,4.2 47.3,9.2 Q47.3,14.3 43,14.3 M55,0.4 L57.3,19 Q58.2,24.4 61,24.4 Q63.8,24.4 64.4,19 L66.3,0.4" transform="translate(978.6,804.45) skewX(-11) scale(0.9,1)"/></g></svg></body></html>
